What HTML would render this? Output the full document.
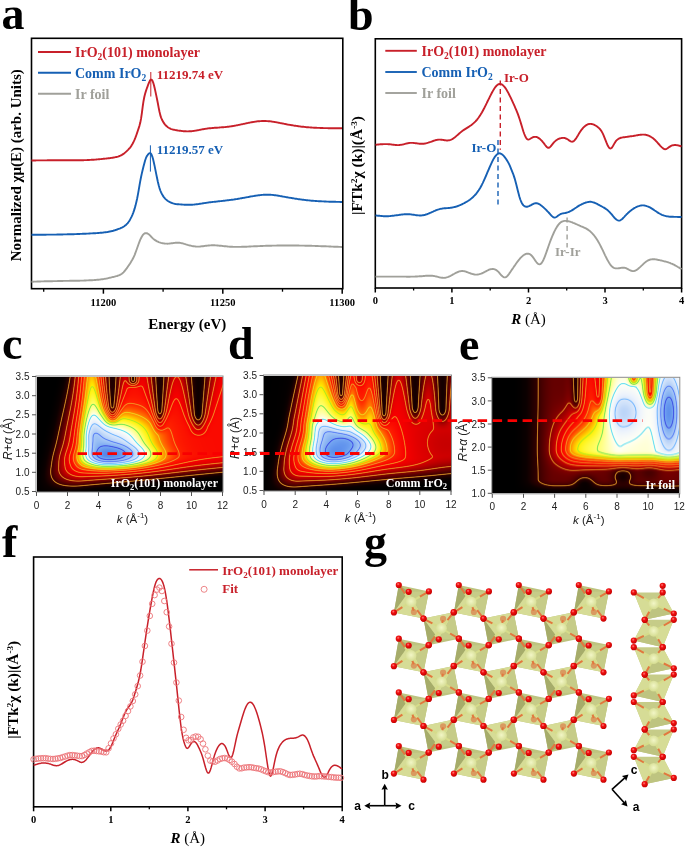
<!DOCTYPE html>
<html><head><meta charset="utf-8"><style>
html,body{margin:0;padding:0;background:#fff;}
#wrap{position:relative;width:685px;height:847px;overflow:hidden;background:#fff;}
svg{position:absolute;left:0;top:0;}
</style></head><body><div id="wrap">
<canvas id="cvc" width="186" height="115" style="position:absolute;left:36.5px;top:376.5px;width:186px;height:115px;background:radial-gradient(ellipse 16% 22% at 38% 68%, #5a8ae6 0%, #d8e6fa 55%, rgba(255,255,160,0) 100%), radial-gradient(ellipse 30% 40% at 40% 62%, #ffff80 0%, #ffb000 60%, rgba(255,40,0,0) 100%), linear-gradient(to right, #000 0%, #000 8%, #b00000 20%, #f00000 35%, #e00000 100%)"></canvas>
<canvas id="cvd" width="187" height="115" style="position:absolute;left:264.0px;top:375.5px;width:187px;height:115px;background:radial-gradient(ellipse 16% 22% at 38% 68%, #5a8ae6 0%, #d8e6fa 55%, rgba(255,255,160,0) 100%), radial-gradient(ellipse 30% 40% at 40% 62%, #ffff80 0%, #ffb000 60%, rgba(255,40,0,0) 100%), linear-gradient(to right, #000 0%, #000 8%, #b00000 20%, #f00000 35%, #e00000 100%)"></canvas>
<canvas id="cve" width="187" height="116" style="position:absolute;left:492.3px;top:377.8px;width:187px;height:115.5px;background:radial-gradient(ellipse 30% 35% at 78% 35%, #e0ecfc 0%, #ffffff 50%, #ffff60 80%, rgba(255,60,0,0) 100%), linear-gradient(to right, #000 0%, #000 22%, #700000 35%, #e00000 50%, #ff8000 65%, #ffff80 100%)"></canvas>
<svg width="685" height="847" viewBox="0 0 685 847">
<text x="1.5" y="29" style="font-family:'Liberation Serif',serif;font-weight:bold;font-size:46px">a</text>
<text x="348" y="30" style="font-family:'Liberation Serif',serif;font-weight:bold;font-size:46px">b</text>
<text x="2" y="358.5" style="font-family:'Liberation Serif',serif;font-weight:bold;font-size:46px">c</text>
<text x="228" y="359" style="font-family:'Liberation Serif',serif;font-weight:bold;font-size:46px">d</text>
<text x="459" y="359.5" style="font-family:'Liberation Serif',serif;font-weight:bold;font-size:46px">e</text>
<text x="2" y="556.5" style="font-family:'Liberation Serif',serif;font-weight:bold;font-size:46px">f</text>
<text x="364" y="556.5" style="font-family:'Liberation Serif',serif;font-weight:bold;font-size:46px">g</text>
<rect x="31.5" y="38.3" width="311.3" height="250.39999999999998" fill="none" stroke="#000" stroke-width="1.6"/>
<line x1="103.4" y1="288.7" x2="103.4" y2="293.7" stroke="#000" stroke-width="1.5"/>
<text x="103.4" y="305.8" text-anchor="middle" style="font-family:'Liberation Serif',serif;font-weight:bold;font-size:10.5px">11200</text>
<line x1="222.8" y1="288.7" x2="222.8" y2="293.7" stroke="#000" stroke-width="1.5"/>
<text x="222.8" y="305.8" text-anchor="middle" style="font-family:'Liberation Serif',serif;font-weight:bold;font-size:10.5px">11250</text>
<line x1="342.2" y1="288.7" x2="342.2" y2="293.7" stroke="#000" stroke-width="1.5"/>
<text x="342.2" y="305.8" text-anchor="middle" style="font-family:'Liberation Serif',serif;font-weight:bold;font-size:10.5px">11300</text>
<line x1="43.7" y1="288.7" x2="43.7" y2="291.7" stroke="#000" stroke-width="1.3"/>
<line x1="163.1" y1="288.7" x2="163.1" y2="291.7" stroke="#000" stroke-width="1.3"/>
<line x1="282.5" y1="288.7" x2="282.5" y2="291.7" stroke="#000" stroke-width="1.3"/>
<text x="187.3" y="328.5" text-anchor="middle" style="font-family:'Liberation Serif',serif;font-weight:bold;font-size:15px">Energy (eV)</text>
<text transform="translate(20.5,165.2) rotate(-90)" text-anchor="middle" style="font-family:'Liberation Serif',serif;font-weight:bold;font-size:15px">Normalized χμ(E) (arb. Units)</text>
<path d="M31.5,281.7 L32.3,281.7 L33.1,281.7 L33.9,281.6 L34.7,281.6 L35.5,281.6 L36.3,281.6 L37.1,281.5 L37.9,281.5 L38.7,281.5 L39.5,281.5 L40.3,281.5 L41.1,281.4 L41.9,281.4 L42.7,281.4 L43.5,281.4 L44.3,281.3 L45.1,281.3 L45.9,281.3 L46.7,281.3 L47.5,281.3 L48.3,281.2 L49.1,281.2 L49.9,281.2 L50.7,281.2 L51.5,281.2 L52.3,281.2 L53.1,281.1 L53.9,281.1 L54.7,281.1 L55.5,281.1 L56.3,281.1 L57.1,281.1 L57.9,281.0 L58.7,281.0 L59.5,281.0 L60.3,281.0 L61.1,281.0 L61.9,281.0 L62.7,281.0 L63.5,280.9 L64.3,280.9 L65.1,280.9 L65.9,280.9 L66.7,280.9 L67.5,280.9 L68.3,280.9 L69.1,280.9 L69.9,280.8 L70.7,280.8 L71.5,280.8 L72.3,280.8 L73.1,280.8 L73.9,280.8 L74.7,280.8 L75.5,280.8 L76.3,280.7 L77.1,280.7 L77.9,280.7 L78.7,280.7 L79.5,280.7 L80.3,280.6 L81.1,280.6 L81.9,280.6 L82.7,280.6 L83.5,280.6 L84.3,280.5 L85.1,280.5 L85.9,280.5 L86.7,280.4 L87.5,280.4 L88.3,280.4 L89.1,280.3 L89.9,280.3 L90.7,280.3 L91.5,280.2 L92.3,280.2 L93.1,280.1 L93.9,280.1 L94.7,280.0 L95.5,280.0 L96.3,279.9 L97.1,279.8 L97.9,279.8 L98.7,279.7 L99.5,279.6 L100.3,279.5 L101.1,279.4 L101.9,279.3 L102.7,279.2 L103.5,279.1 L104.3,278.9 L105.1,278.8 L105.9,278.6 L106.7,278.5 L107.5,278.3 L108.3,278.1 L109.1,277.9 L109.9,277.7 L110.7,277.6 L111.5,277.4 L112.3,277.2 L113.1,277.0 L113.9,276.8 L114.7,276.6 L115.5,276.4 L116.3,276.2 L117.1,276.0 L117.9,275.7 L118.7,275.4 L119.5,275.1 L120.3,274.7 L121.1,274.2 L121.9,273.7 L122.7,273.1 L123.5,272.3 L124.3,271.4 L125.1,270.5 L125.9,269.4 L126.7,268.4 L127.5,267.2 L128.3,266.0 L129.1,264.9 L129.9,263.7 L130.7,262.4 L131.5,261.1 L132.3,259.8 L133.1,258.3 L133.9,256.6 L134.7,254.8 L135.5,252.7 L136.3,250.5 L137.1,248.3 L137.9,246.0 L138.7,243.8 L139.5,241.7 L140.3,239.7 L141.1,238.0 L141.9,236.5 L142.7,235.2 L143.5,234.3 L144.3,233.6 L145.1,233.2 L145.9,233.1 L146.7,233.2 L147.5,233.5 L148.3,234.0 L149.1,234.6 L149.9,235.3 L150.7,236.1 L151.5,237.0 L152.3,237.8 L153.1,238.6 L153.9,239.3 L154.7,239.9 L155.5,240.4 L156.3,240.9 L157.1,241.4 L157.9,241.7 L158.7,242.1 L159.5,242.4 L160.3,242.6 L161.1,242.9 L161.9,243.1 L162.7,243.2 L163.5,243.4 L164.3,243.5 L165.1,243.6 L165.9,243.6 L166.7,243.6 L167.5,243.7 L168.3,243.6 L169.1,243.6 L169.9,243.5 L170.7,243.4 L171.5,243.3 L172.3,243.2 L173.1,243.1 L173.9,243.0 L174.7,242.9 L175.5,242.8 L176.3,242.8 L177.1,242.7 L177.9,242.7 L178.7,242.8 L179.5,242.8 L180.3,242.9 L181.1,243.1 L181.9,243.2 L182.7,243.4 L183.5,243.6 L184.3,243.9 L185.1,244.1 L185.9,244.4 L186.7,244.6 L187.5,244.9 L188.3,245.1 L189.1,245.3 L189.9,245.5 L190.7,245.7 L191.5,245.9 L192.3,246.1 L193.1,246.2 L193.9,246.3 L194.7,246.4 L195.5,246.5 L196.3,246.6 L197.1,246.6 L197.9,246.6 L198.7,246.6 L199.5,246.6 L200.3,246.5 L201.1,246.4 L201.9,246.3 L202.7,246.3 L203.5,246.2 L204.3,246.0 L205.1,245.9 L205.9,245.8 L206.7,245.7 L207.5,245.6 L208.3,245.5 L209.1,245.5 L209.9,245.4 L210.7,245.4 L211.5,245.3 L212.3,245.3 L213.1,245.3 L213.9,245.3 L214.7,245.3 L215.5,245.4 L216.3,245.4 L217.1,245.5 L217.9,245.5 L218.7,245.6 L219.5,245.7 L220.3,245.7 L221.1,245.8 L221.9,245.9 L222.7,246.0 L223.5,246.1 L224.3,246.2 L225.1,246.2 L225.9,246.3 L226.7,246.4 L227.5,246.5 L228.3,246.6 L229.1,246.6 L229.9,246.7 L230.7,246.7 L231.5,246.8 L232.3,246.8 L233.1,246.9 L233.9,246.9 L234.7,246.9 L235.5,246.9 L236.3,246.9 L237.1,246.9 L237.9,246.9 L238.7,246.9 L239.5,246.9 L240.3,246.9 L241.1,246.9 L241.9,246.8 L242.7,246.8 L243.5,246.8 L244.3,246.8 L245.1,246.7 L245.9,246.7 L246.7,246.7 L247.5,246.6 L248.3,246.6 L249.1,246.5 L249.9,246.5 L250.7,246.5 L251.5,246.4 L252.3,246.4 L253.1,246.4 L253.9,246.3 L254.7,246.3 L255.5,246.2 L256.3,246.2 L257.1,246.2 L257.9,246.1 L258.7,246.1 L259.5,246.1 L260.3,246.0 L261.1,246.0 L261.9,246.0 L262.7,246.0 L263.5,245.9 L264.3,245.9 L265.1,245.9 L265.9,245.8 L266.7,245.8 L267.5,245.8 L268.3,245.8 L269.1,245.7 L269.9,245.7 L270.7,245.7 L271.5,245.7 L272.3,245.6 L273.1,245.6 L273.9,245.6 L274.7,245.6 L275.5,245.6 L276.3,245.6 L277.1,245.5 L277.9,245.5 L278.7,245.5 L279.5,245.5 L280.3,245.5 L281.1,245.5 L281.9,245.5 L282.7,245.5 L283.5,245.5 L284.3,245.5 L285.1,245.5 L285.9,245.5 L286.7,245.5 L287.5,245.5 L288.3,245.5 L289.1,245.5 L289.9,245.5 L290.7,245.5 L291.5,245.5 L292.3,245.5 L293.1,245.5 L293.9,245.5 L294.7,245.5 L295.5,245.5 L296.3,245.5 L297.1,245.5 L297.9,245.5 L298.7,245.5 L299.5,245.6 L300.3,245.6 L301.1,245.6 L301.9,245.6 L302.7,245.6 L303.5,245.6 L304.3,245.6 L305.1,245.7 L305.9,245.7 L306.7,245.7 L307.5,245.7 L308.3,245.7 L309.1,245.8 L309.9,245.8 L310.7,245.8 L311.5,245.8 L312.3,245.9 L313.1,245.9 L313.9,245.9 L314.7,245.9 L315.5,246.0 L316.3,246.0 L317.1,246.0 L317.9,246.0 L318.7,246.1 L319.5,246.1 L320.3,246.1 L321.1,246.2 L321.9,246.2 L322.7,246.2 L323.5,246.2 L324.3,246.3 L325.1,246.3 L325.9,246.3 L326.7,246.4 L327.5,246.4 L328.3,246.4 L329.1,246.5 L329.9,246.5 L330.7,246.5 L331.5,246.6 L332.3,246.6 L333.1,246.6 L333.9,246.7 L334.7,246.7 L335.5,246.7 L336.3,246.8 L337.1,246.8 L337.9,246.8 L338.7,246.9 L339.5,246.9 L340.3,246.9 L341.1,247.0 L341.9,247.0 L342.0,247.0" fill="none" stroke="#a0a09a" stroke-width="1.9" stroke-linejoin="round"/>
<path d="M31.5,234.7 L32.3,234.7 L33.1,234.7 L33.9,234.7 L34.7,234.7 L35.5,234.7 L36.3,234.7 L37.1,234.7 L37.9,234.7 L38.7,234.7 L39.5,234.7 L40.3,234.7 L41.1,234.7 L41.9,234.7 L42.7,234.7 L43.5,234.7 L44.3,234.7 L45.1,234.7 L45.9,234.7 L46.7,234.6 L47.5,234.6 L48.3,234.6 L49.1,234.6 L49.9,234.6 L50.7,234.6 L51.5,234.6 L52.3,234.6 L53.1,234.6 L53.9,234.6 L54.7,234.6 L55.5,234.6 L56.3,234.6 L57.1,234.5 L57.9,234.5 L58.7,234.5 L59.5,234.5 L60.3,234.5 L61.1,234.5 L61.9,234.5 L62.7,234.5 L63.5,234.4 L64.3,234.4 L65.1,234.4 L65.9,234.4 L66.7,234.4 L67.5,234.3 L68.3,234.3 L69.1,234.3 L69.9,234.3 L70.7,234.3 L71.5,234.2 L72.3,234.2 L73.1,234.2 L73.9,234.2 L74.7,234.1 L75.5,234.1 L76.3,234.1 L77.1,234.0 L77.9,234.0 L78.7,234.0 L79.5,234.0 L80.3,233.9 L81.1,233.9 L81.9,233.9 L82.7,233.8 L83.5,233.8 L84.3,233.8 L85.1,233.7 L85.9,233.7 L86.7,233.6 L87.5,233.6 L88.3,233.6 L89.1,233.5 L89.9,233.5 L90.7,233.4 L91.5,233.4 L92.3,233.4 L93.1,233.3 L93.9,233.3 L94.7,233.2 L95.5,233.2 L96.3,233.1 L97.1,233.1 L97.9,233.0 L98.7,233.0 L99.5,232.9 L100.3,232.8 L101.1,232.8 L101.9,232.7 L102.7,232.6 L103.5,232.5 L104.3,232.4 L105.1,232.3 L105.9,232.2 L106.7,232.1 L107.5,232.0 L108.3,231.8 L109.1,231.7 L109.9,231.5 L110.7,231.3 L111.5,231.2 L112.3,231.0 L113.1,230.8 L113.9,230.5 L114.7,230.3 L115.5,230.0 L116.3,229.8 L117.1,229.5 L117.9,229.2 L118.7,228.9 L119.5,228.6 L120.3,228.3 L121.1,227.9 L121.9,227.6 L122.7,227.2 L123.5,226.7 L124.3,226.2 L125.1,225.6 L125.9,225.0 L126.7,224.2 L127.5,223.3 L128.3,222.3 L129.1,221.2 L129.9,219.9 L130.7,218.4 L131.5,216.8 L132.3,215.1 L133.1,213.1 L133.9,210.9 L134.7,208.4 L135.5,205.6 L136.3,202.3 L137.1,198.7 L137.9,194.6 L138.7,190.1 L139.5,185.3 L140.3,180.8 L141.1,176.7 L141.9,173.1 L142.7,169.7 L143.5,166.5 L144.3,163.4 L145.1,160.5 L145.9,158.2 L146.7,156.4 L147.5,155.2 L148.3,154.1 L149.1,153.4 L149.9,153.1 L150.7,153.4 L151.5,154.6 L152.3,156.6 L153.1,159.3 L153.9,162.7 L154.7,166.4 L155.5,170.4 L156.3,174.4 L157.1,178.3 L157.9,182.0 L158.7,185.3 L159.5,188.1 L160.3,190.5 L161.1,192.4 L161.9,194.0 L162.7,195.4 L163.5,196.6 L164.3,197.7 L165.1,198.6 L165.9,199.4 L166.7,200.1 L167.5,200.7 L168.3,201.2 L169.1,201.7 L169.9,202.1 L170.7,202.5 L171.5,202.8 L172.3,203.1 L173.1,203.4 L173.9,203.6 L174.7,203.8 L175.5,204.0 L176.3,204.1 L177.1,204.2 L177.9,204.3 L178.7,204.3 L179.5,204.4 L180.3,204.4 L181.1,204.5 L181.9,204.5 L182.7,204.6 L183.5,204.6 L184.3,204.7 L185.1,204.7 L185.9,204.8 L186.7,204.8 L187.5,204.8 L188.3,204.8 L189.1,204.8 L189.9,204.8 L190.7,204.8 L191.5,204.7 L192.3,204.7 L193.1,204.6 L193.9,204.6 L194.7,204.5 L195.5,204.4 L196.3,204.3 L197.1,204.2 L197.9,204.1 L198.7,204.0 L199.5,203.8 L200.3,203.7 L201.1,203.6 L201.9,203.5 L202.7,203.3 L203.5,203.2 L204.3,203.1 L205.1,203.0 L205.9,202.9 L206.7,202.8 L207.5,202.6 L208.3,202.5 L209.1,202.4 L209.9,202.3 L210.7,202.2 L211.5,202.1 L212.3,202.0 L213.1,201.9 L213.9,201.9 L214.7,201.8 L215.5,201.7 L216.3,201.6 L217.1,201.5 L217.9,201.4 L218.7,201.3 L219.5,201.2 L220.3,201.1 L221.1,201.1 L221.9,201.0 L222.7,200.9 L223.5,200.8 L224.3,200.7 L225.1,200.6 L225.9,200.5 L226.7,200.4 L227.5,200.3 L228.3,200.2 L229.1,200.1 L229.9,200.0 L230.7,199.9 L231.5,199.8 L232.3,199.7 L233.1,199.6 L233.9,199.5 L234.7,199.3 L235.5,199.2 L236.3,199.1 L237.1,199.0 L237.9,198.8 L238.7,198.7 L239.5,198.6 L240.3,198.4 L241.1,198.3 L241.9,198.2 L242.7,198.0 L243.5,197.9 L244.3,197.7 L245.1,197.6 L245.9,197.4 L246.7,197.3 L247.5,197.1 L248.3,197.0 L249.1,196.8 L249.9,196.7 L250.7,196.5 L251.5,196.4 L252.3,196.3 L253.1,196.1 L253.9,196.0 L254.7,195.8 L255.5,195.7 L256.3,195.6 L257.1,195.5 L257.9,195.4 L258.7,195.3 L259.5,195.2 L260.3,195.1 L261.1,195.0 L261.9,194.9 L262.7,194.9 L263.5,194.8 L264.3,194.8 L265.1,194.7 L265.9,194.7 L266.7,194.7 L267.5,194.7 L268.3,194.7 L269.1,194.7 L269.9,194.8 L270.7,194.8 L271.5,194.9 L272.3,194.9 L273.1,195.0 L273.9,195.1 L274.7,195.2 L275.5,195.3 L276.3,195.4 L277.1,195.5 L277.9,195.7 L278.7,195.8 L279.5,195.9 L280.3,196.1 L281.1,196.2 L281.9,196.3 L282.7,196.5 L283.5,196.6 L284.3,196.8 L285.1,196.9 L285.9,197.1 L286.7,197.2 L287.5,197.3 L288.3,197.5 L289.1,197.6 L289.9,197.8 L290.7,197.9 L291.5,198.0 L292.3,198.2 L293.1,198.3 L293.9,198.4 L294.7,198.6 L295.5,198.7 L296.3,198.8 L297.1,198.9 L297.9,199.1 L298.7,199.2 L299.5,199.3 L300.3,199.4 L301.1,199.5 L301.9,199.6 L302.7,199.7 L303.5,199.8 L304.3,199.9 L305.1,200.0 L305.9,200.1 L306.7,200.2 L307.5,200.3 L308.3,200.4 L309.1,200.4 L309.9,200.5 L310.7,200.6 L311.5,200.7 L312.3,200.7 L313.1,200.8 L313.9,200.9 L314.7,200.9 L315.5,201.0 L316.3,201.0 L317.1,201.1 L317.9,201.1 L318.7,201.2 L319.5,201.2 L320.3,201.3 L321.1,201.3 L321.9,201.4 L322.7,201.4 L323.5,201.4 L324.3,201.5 L325.1,201.5 L325.9,201.5 L326.7,201.6 L327.5,201.6 L328.3,201.6 L329.1,201.7 L329.9,201.7 L330.7,201.7 L331.5,201.7 L332.3,201.8 L333.1,201.8 L333.9,201.8 L334.7,201.8 L335.5,201.8 L336.3,201.9 L337.1,201.9 L337.9,201.9 L338.7,201.9 L339.5,201.9 L340.3,202.0 L341.1,202.0 L341.9,202.0 L342.0,202.0" fill="none" stroke="#1660b4" stroke-width="1.9" stroke-linejoin="round"/>
<path d="M31.5,160.5 L32.3,160.5 L33.1,160.5 L33.9,160.5 L34.7,160.5 L35.5,160.5 L36.3,160.4 L37.1,160.4 L37.9,160.4 L38.7,160.4 L39.5,160.4 L40.3,160.4 L41.1,160.4 L41.9,160.4 L42.7,160.4 L43.5,160.4 L44.3,160.4 L45.1,160.4 L45.9,160.4 L46.7,160.4 L47.5,160.3 L48.3,160.3 L49.1,160.3 L49.9,160.3 L50.7,160.3 L51.5,160.3 L52.3,160.3 L53.1,160.3 L53.9,160.3 L54.7,160.3 L55.5,160.3 L56.3,160.3 L57.1,160.3 L57.9,160.3 L58.7,160.3 L59.5,160.3 L60.3,160.3 L61.1,160.3 L61.9,160.3 L62.7,160.3 L63.5,160.3 L64.3,160.3 L65.1,160.3 L65.9,160.3 L66.7,160.3 L67.5,160.3 L68.3,160.3 L69.1,160.3 L69.9,160.3 L70.7,160.3 L71.5,160.3 L72.3,160.3 L73.1,160.3 L73.9,160.3 L74.7,160.3 L75.5,160.3 L76.3,160.3 L77.1,160.3 L77.9,160.3 L78.7,160.3 L79.5,160.2 L80.3,160.2 L81.1,160.2 L81.9,160.2 L82.7,160.2 L83.5,160.2 L84.3,160.1 L85.1,160.1 L85.9,160.1 L86.7,160.1 L87.5,160.0 L88.3,160.0 L89.1,160.0 L89.9,159.9 L90.7,159.9 L91.5,159.8 L92.3,159.8 L93.1,159.7 L93.9,159.7 L94.7,159.6 L95.5,159.6 L96.3,159.5 L97.1,159.4 L97.9,159.4 L98.7,159.3 L99.5,159.2 L100.3,159.1 L101.1,159.1 L101.9,159.0 L102.7,158.9 L103.5,158.8 L104.3,158.7 L105.1,158.6 L105.9,158.6 L106.7,158.5 L107.5,158.4 L108.3,158.3 L109.1,158.2 L109.9,158.1 L110.7,158.0 L111.5,157.9 L112.3,157.8 L113.1,157.7 L113.9,157.5 L114.7,157.4 L115.5,157.2 L116.3,157.0 L117.1,156.8 L117.9,156.6 L118.7,156.3 L119.5,156.0 L120.3,155.7 L121.1,155.3 L121.9,154.9 L122.7,154.4 L123.5,153.9 L124.3,153.3 L125.1,152.6 L125.9,151.9 L126.7,151.2 L127.5,150.4 L128.3,149.6 L129.1,148.7 L129.9,147.8 L130.7,146.8 L131.5,145.6 L132.3,144.3 L133.1,142.8 L133.9,141.2 L134.7,139.4 L135.5,137.4 L136.3,135.2 L137.1,132.9 L137.9,130.5 L138.7,128.1 L139.5,125.6 L140.3,122.6 L141.1,118.4 L141.9,112.8 L142.7,106.7 L143.5,101.2 L144.3,97.0 L145.1,93.7 L145.9,91.1 L146.7,88.8 L147.5,86.6 L148.3,84.3 L149.1,82.3 L149.9,80.7 L150.7,79.7 L151.5,79.6 L152.3,80.5 L153.1,82.3 L153.9,85.0 L154.7,88.3 L155.5,91.9 L156.3,95.6 L157.1,99.5 L157.9,103.5 L158.7,107.8 L159.5,111.8 L160.3,115.1 L161.1,117.6 L161.9,119.5 L162.7,121.1 L163.5,122.4 L164.3,123.6 L165.1,124.6 L165.9,125.5 L166.7,126.2 L167.5,126.9 L168.3,127.5 L169.1,128.0 L169.9,128.4 L170.7,128.8 L171.5,129.1 L172.3,129.3 L173.1,129.6 L173.9,129.7 L174.7,129.9 L175.5,130.1 L176.3,130.2 L177.1,130.3 L177.9,130.5 L178.7,130.6 L179.5,130.7 L180.3,130.8 L181.1,130.9 L181.9,131.0 L182.7,131.1 L183.5,131.2 L184.3,131.3 L185.1,131.3 L185.9,131.3 L186.7,131.4 L187.5,131.4 L188.3,131.4 L189.1,131.3 L189.9,131.3 L190.7,131.3 L191.5,131.2 L192.3,131.1 L193.1,131.0 L193.9,130.9 L194.7,130.8 L195.5,130.6 L196.3,130.5 L197.1,130.4 L197.9,130.2 L198.7,130.1 L199.5,129.9 L200.3,129.7 L201.1,129.6 L201.9,129.4 L202.7,129.3 L203.5,129.2 L204.3,129.0 L205.1,128.9 L205.9,128.8 L206.7,128.6 L207.5,128.5 L208.3,128.4 L209.1,128.3 L209.9,128.3 L210.7,128.2 L211.5,128.1 L212.3,128.0 L213.1,128.0 L213.9,127.9 L214.7,127.8 L215.5,127.8 L216.3,127.7 L217.1,127.7 L217.9,127.6 L218.7,127.6 L219.5,127.5 L220.3,127.4 L221.1,127.4 L221.9,127.3 L222.7,127.3 L223.5,127.2 L224.3,127.1 L225.1,127.1 L225.9,127.0 L226.7,126.9 L227.5,126.8 L228.3,126.7 L229.1,126.6 L229.9,126.5 L230.7,126.4 L231.5,126.3 L232.3,126.2 L233.1,126.0 L233.9,125.9 L234.7,125.7 L235.5,125.6 L236.3,125.4 L237.1,125.3 L237.9,125.1 L238.7,124.9 L239.5,124.8 L240.3,124.6 L241.1,124.4 L241.9,124.3 L242.7,124.1 L243.5,123.9 L244.3,123.8 L245.1,123.6 L245.9,123.4 L246.7,123.2 L247.5,123.1 L248.3,122.9 L249.1,122.7 L249.9,122.6 L250.7,122.4 L251.5,122.3 L252.3,122.2 L253.1,122.0 L253.9,121.9 L254.7,121.8 L255.5,121.6 L256.3,121.5 L257.1,121.4 L257.9,121.3 L258.7,121.3 L259.5,121.2 L260.3,121.1 L261.1,121.1 L261.9,121.0 L262.7,121.0 L263.5,121.0 L264.3,121.0 L265.1,121.0 L265.9,121.0 L266.7,121.1 L267.5,121.1 L268.3,121.2 L269.1,121.2 L269.9,121.3 L270.7,121.4 L271.5,121.5 L272.3,121.6 L273.1,121.8 L273.9,121.9 L274.7,122.0 L275.5,122.1 L276.3,122.3 L277.1,122.4 L277.9,122.6 L278.7,122.7 L279.5,122.9 L280.3,123.1 L281.1,123.2 L281.9,123.4 L282.7,123.5 L283.5,123.7 L284.3,123.9 L285.1,124.0 L285.9,124.2 L286.7,124.3 L287.5,124.5 L288.3,124.6 L289.1,124.8 L289.9,124.9 L290.7,125.0 L291.5,125.2 L292.3,125.3 L293.1,125.4 L293.9,125.6 L294.7,125.7 L295.5,125.8 L296.3,125.9 L297.1,126.0 L297.9,126.2 L298.7,126.3 L299.5,126.4 L300.3,126.5 L301.1,126.6 L301.9,126.7 L302.7,126.8 L303.5,126.8 L304.3,126.9 L305.1,127.0 L305.9,127.1 L306.7,127.2 L307.5,127.2 L308.3,127.3 L309.1,127.4 L309.9,127.4 L310.7,127.5 L311.5,127.5 L312.3,127.6 L313.1,127.6 L313.9,127.7 L314.7,127.7 L315.5,127.8 L316.3,127.8 L317.1,127.9 L317.9,127.9 L318.7,127.9 L319.5,127.9 L320.3,128.0 L321.1,128.0 L321.9,128.0 L322.7,128.0 L323.5,128.1 L324.3,128.1 L325.1,128.1 L325.9,128.1 L326.7,128.1 L327.5,128.1 L328.3,128.2 L329.1,128.2 L329.9,128.2 L330.7,128.2 L331.5,128.2 L332.3,128.2 L333.1,128.2 L333.9,128.2 L334.7,128.2 L335.5,128.2 L336.3,128.2 L337.1,128.2 L337.9,128.2 L338.7,128.2 L339.5,128.2 L340.3,128.2 L341.1,128.2 L341.9,128.2 L342.0,128.2" fill="none" stroke="#c8202a" stroke-width="1.9" stroke-linejoin="round"/>
<line x1="150.8" y1="72" x2="150.8" y2="96.5" stroke="#c8202a" stroke-width="1"/>
<line x1="150.4" y1="145.3" x2="150.4" y2="171.6" stroke="#1660b4" stroke-width="1"/>
<text x="156.7" y="79.2" style="font-family:'Liberation Serif',serif;font-weight:bold;font-size:13px;fill:#c8202a">11219.74 eV</text>
<text x="156.7" y="154.2" style="font-family:'Liberation Serif',serif;font-weight:bold;font-size:13px;fill:#1660b4">11219.57 eV</text>
<line x1="38" y1="52" x2="71" y2="52" stroke="#c8202a" stroke-width="1.9"/>
<text x="75" y="57" style="font-family:'Liberation Serif',serif;font-weight:bold;font-size:14px;fill:#c8202a">IrO<tspan dy="3" font-size="9.5px">2</tspan><tspan dy="-3">(101) monolayer</tspan></text>
<line x1="38" y1="72.8" x2="71" y2="72.8" stroke="#1660b4" stroke-width="1.9"/>
<text x="75" y="77.8" style="font-family:'Liberation Serif',serif;font-weight:bold;font-size:14px;fill:#1660b4">Comm IrO<tspan dy="3" font-size="9.5px">2</tspan></text>
<line x1="38" y1="93.7" x2="71" y2="93.7" stroke="#a0a09a" stroke-width="1.9"/>
<text x="75" y="98.7" style="font-family:'Liberation Serif',serif;font-weight:bold;font-size:14px;fill:#a0a09a">Ir foil</text>
<rect x="375.3" y="38.8" width="306.3" height="249.2" fill="none" stroke="#000" stroke-width="1.6"/>
<line x1="375.3" y1="288.0" x2="375.3" y2="292.5" stroke="#000" stroke-width="1.5"/>
<text x="375.3" y="304.3" text-anchor="middle" style="font-family:'Liberation Serif',serif;font-weight:bold;font-size:10.5px">0</text>
<line x1="451.9" y1="288.0" x2="451.9" y2="292.5" stroke="#000" stroke-width="1.5"/>
<text x="451.9" y="304.3" text-anchor="middle" style="font-family:'Liberation Serif',serif;font-weight:bold;font-size:10.5px">1</text>
<line x1="528.5" y1="288.0" x2="528.5" y2="292.5" stroke="#000" stroke-width="1.5"/>
<text x="528.5" y="304.3" text-anchor="middle" style="font-family:'Liberation Serif',serif;font-weight:bold;font-size:10.5px">2</text>
<line x1="605.0" y1="288.0" x2="605.0" y2="292.5" stroke="#000" stroke-width="1.5"/>
<text x="605.0" y="304.3" text-anchor="middle" style="font-family:'Liberation Serif',serif;font-weight:bold;font-size:10.5px">3</text>
<line x1="681.6" y1="288.0" x2="681.6" y2="292.5" stroke="#000" stroke-width="1.5"/>
<text x="681.6" y="304.3" text-anchor="middle" style="font-family:'Liberation Serif',serif;font-weight:bold;font-size:10.5px">4</text>
<line x1="413.6" y1="288.0" x2="413.6" y2="290.5" stroke="#000" stroke-width="1.3"/>
<line x1="490.2" y1="288.0" x2="490.2" y2="290.5" stroke="#000" stroke-width="1.3"/>
<line x1="566.7" y1="288.0" x2="566.7" y2="290.5" stroke="#000" stroke-width="1.3"/>
<line x1="643.3" y1="288.0" x2="643.3" y2="290.5" stroke="#000" stroke-width="1.3"/>
<text x="528.5" y="324.4" text-anchor="middle" style="font-family:'Liberation Serif',serif;font-weight:bold;font-size:15px"><tspan font-style="italic">R</tspan><tspan font-weight="normal"> (Å)</tspan></text>
<text transform="translate(361.5,165.5) rotate(-90)" text-anchor="middle" style="font-family:'Liberation Serif',serif;font-weight:bold;font-size:15.5px">|FTk<tspan dy="-5" font-size="9px">2</tspan><tspan dy="5">χ (k)|(Å</tspan><tspan dy="-5" font-size="9px">-3</tspan><tspan dy="5">)</tspan></text>
<path d="M375.5,276.6 L376.3,276.6 L377.1,276.6 L377.9,276.6 L378.7,276.6 L379.5,276.6 L380.3,276.6 L381.1,276.6 L381.9,276.6 L382.7,276.6 L383.5,276.6 L384.3,276.6 L385.1,276.6 L385.9,276.6 L386.7,276.6 L387.5,276.6 L388.3,276.6 L389.1,276.6 L389.9,276.6 L390.7,276.6 L391.5,276.6 L392.3,276.6 L393.1,276.6 L393.9,276.6 L394.7,276.6 L395.5,276.6 L396.3,276.6 L397.1,276.6 L397.9,276.6 L398.7,276.6 L399.5,276.6 L400.3,276.6 L401.1,276.6 L401.9,276.6 L402.7,276.6 L403.5,276.6 L404.3,276.6 L405.1,276.6 L405.9,276.6 L406.7,276.7 L407.5,276.7 L408.3,276.7 L409.1,276.7 L409.9,276.7 L410.7,276.6 L411.5,276.6 L412.3,276.6 L413.1,276.6 L413.9,276.6 L414.7,276.6 L415.5,276.5 L416.3,276.5 L417.1,276.5 L417.9,276.4 L418.7,276.4 L419.5,276.3 L420.3,276.3 L421.1,276.2 L421.9,276.2 L422.7,276.1 L423.5,276.0 L424.3,276.0 L425.1,275.9 L425.9,275.8 L426.7,275.8 L427.5,275.8 L428.3,275.7 L429.1,275.7 L429.9,275.7 L430.7,275.7 L431.5,275.8 L432.3,275.8 L433.1,275.9 L433.9,276.0 L434.7,276.1 L435.5,276.3 L436.3,276.5 L437.1,276.7 L437.9,276.9 L438.7,277.1 L439.5,277.3 L440.3,277.5 L441.1,277.6 L441.9,277.7 L442.7,277.8 L443.5,277.9 L444.3,277.9 L445.1,277.8 L445.9,277.6 L446.7,277.4 L447.5,277.2 L448.3,276.9 L449.1,276.5 L449.9,276.2 L450.7,275.8 L451.5,275.3 L452.3,274.9 L453.1,274.4 L453.9,274.0 L454.7,273.5 L455.5,273.1 L456.3,272.7 L457.1,272.3 L457.9,272.0 L458.7,271.7 L459.5,271.4 L460.3,271.2 L461.1,271.1 L461.9,271.0 L462.7,271.0 L463.5,271.1 L464.3,271.2 L465.1,271.4 L465.9,271.7 L466.7,272.0 L467.5,272.2 L468.3,272.6 L469.1,272.9 L469.9,273.2 L470.7,273.5 L471.5,273.7 L472.3,274.0 L473.1,274.2 L473.9,274.3 L474.7,274.5 L475.5,274.6 L476.3,274.6 L477.1,274.6 L477.9,274.5 L478.7,274.4 L479.5,274.2 L480.3,273.9 L481.1,273.7 L481.9,273.3 L482.7,273.0 L483.5,272.6 L484.3,272.2 L485.1,271.7 L485.9,271.3 L486.7,270.9 L487.5,270.5 L488.3,270.1 L489.1,269.7 L489.9,269.4 L490.7,269.2 L491.5,269.1 L492.3,269.0 L493.1,269.0 L493.9,269.1 L494.7,269.4 L495.5,269.7 L496.3,270.1 L497.1,270.7 L497.9,271.4 L498.7,272.2 L499.5,273.1 L500.3,274.1 L501.1,275.0 L501.9,275.8 L502.7,276.5 L503.5,277.1 L504.3,277.4 L505.1,277.4 L505.9,277.1 L506.7,276.6 L507.5,275.8 L508.3,274.8 L509.1,273.8 L509.9,272.6 L510.7,271.5 L511.5,270.3 L512.3,269.1 L513.1,268.0 L513.9,266.8 L514.7,265.6 L515.5,264.5 L516.3,263.3 L517.1,262.2 L517.9,261.2 L518.7,260.1 L519.5,259.2 L520.3,258.2 L521.1,257.4 L521.9,256.6 L522.7,255.9 L523.5,255.2 L524.3,254.7 L525.1,254.3 L525.9,253.9 L526.7,253.7 L527.5,253.6 L528.3,253.7 L529.1,253.9 L529.9,254.2 L530.7,254.8 L531.5,255.5 L532.3,256.4 L533.1,257.4 L533.9,258.5 L534.7,259.7 L535.5,260.9 L536.3,262.0 L537.1,263.0 L537.9,263.7 L538.7,264.2 L539.5,264.4 L540.3,264.2 L541.1,263.5 L541.9,262.6 L542.7,261.2 L543.5,259.7 L544.3,257.8 L545.1,255.8 L545.9,253.7 L546.7,251.4 L547.5,249.1 L548.3,246.8 L549.1,244.5 L549.9,242.3 L550.7,240.2 L551.5,238.1 L552.3,236.2 L553.1,234.3 L553.9,232.5 L554.7,230.9 L555.5,229.3 L556.3,227.9 L557.1,226.6 L557.9,225.4 L558.7,224.4 L559.5,223.5 L560.3,222.7 L561.1,222.1 L561.9,221.7 L562.7,221.3 L563.5,221.1 L564.3,220.9 L565.1,220.9 L565.9,220.9 L566.7,221.0 L567.5,221.1 L568.3,221.2 L569.1,221.4 L569.9,221.6 L570.7,221.9 L571.5,222.1 L572.3,222.4 L573.1,222.8 L573.9,223.1 L574.7,223.4 L575.5,223.8 L576.3,224.1 L577.1,224.5 L577.9,224.9 L578.7,225.2 L579.5,225.6 L580.3,225.9 L581.1,226.3 L581.9,226.6 L582.7,226.9 L583.5,227.3 L584.3,227.7 L585.1,228.0 L585.9,228.4 L586.7,228.9 L587.5,229.4 L588.3,229.9 L589.1,230.5 L589.9,231.1 L590.7,231.8 L591.5,232.6 L592.3,233.4 L593.1,234.3 L593.9,235.2 L594.7,236.3 L595.5,237.4 L596.3,238.5 L597.1,239.8 L597.9,241.1 L598.7,242.4 L599.5,243.9 L600.3,245.4 L601.1,247.0 L601.9,248.6 L602.7,250.2 L603.5,251.9 L604.3,253.6 L605.1,255.3 L605.9,256.9 L606.7,258.5 L607.5,260.0 L608.3,261.4 L609.1,262.8 L609.9,264.0 L610.7,265.1 L611.5,266.0 L612.3,266.8 L613.1,267.4 L613.9,267.8 L614.7,268.1 L615.5,268.3 L616.3,268.4 L617.1,268.4 L617.9,268.4 L618.7,268.3 L619.5,268.2 L620.3,268.0 L621.1,267.9 L621.9,267.8 L622.7,267.7 L623.5,267.7 L624.3,267.8 L625.1,267.9 L625.9,268.2 L626.7,268.5 L627.5,268.9 L628.3,269.3 L629.1,269.8 L629.9,270.2 L630.7,270.5 L631.5,270.8 L632.3,271.0 L633.1,271.1 L633.9,271.0 L634.7,270.8 L635.5,270.5 L636.3,270.1 L637.1,269.6 L637.9,269.0 L638.7,268.3 L639.5,267.6 L640.3,266.9 L641.1,266.1 L641.9,265.4 L642.7,264.6 L643.5,263.8 L644.3,263.1 L645.1,262.4 L645.9,261.8 L646.7,261.2 L647.5,260.7 L648.3,260.3 L649.1,260.0 L649.9,259.7 L650.7,259.5 L651.5,259.4 L652.3,259.3 L653.1,259.3 L653.9,259.3 L654.7,259.3 L655.5,259.4 L656.3,259.5 L657.1,259.7 L657.9,259.8 L658.7,260.0 L659.5,260.2 L660.3,260.4 L661.1,260.5 L661.9,260.7 L662.7,260.9 L663.5,261.1 L664.3,261.3 L665.1,261.5 L665.9,261.7 L666.7,261.9 L667.5,262.1 L668.3,262.4 L669.1,262.7 L669.9,262.9 L670.7,263.3 L671.5,263.6 L672.3,263.9 L673.1,264.3 L673.9,264.7 L674.7,265.1 L675.5,265.6 L676.3,266.0 L677.1,266.5 L677.9,267.0 L678.7,267.4 L679.5,267.9 L680.3,268.4 L681.1,268.9 L681.5,269.2" fill="none" stroke="#a0a09a" stroke-width="1.9" stroke-linejoin="round"/>
<path d="M375.5,215.4 L376.3,215.5 L377.1,215.6 L377.9,215.7 L378.7,215.8 L379.5,215.8 L380.3,215.9 L381.1,216.0 L381.9,216.0 L382.7,216.1 L383.5,216.2 L384.3,216.2 L385.1,216.2 L385.9,216.2 L386.7,216.2 L387.5,216.2 L388.3,216.2 L389.1,216.1 L389.9,216.1 L390.7,216.0 L391.5,215.9 L392.3,215.8 L393.1,215.8 L393.9,215.6 L394.7,215.5 L395.5,215.4 L396.3,215.3 L397.1,215.2 L397.9,215.1 L398.7,215.0 L399.5,214.8 L400.3,214.7 L401.1,214.6 L401.9,214.5 L402.7,214.5 L403.5,214.4 L404.3,214.3 L405.1,214.3 L405.9,214.2 L406.7,214.2 L407.5,214.2 L408.3,214.2 L409.1,214.2 L409.9,214.3 L410.7,214.4 L411.5,214.5 L412.3,214.6 L413.1,214.7 L413.9,214.8 L414.7,214.9 L415.5,215.1 L416.3,215.2 L417.1,215.3 L417.9,215.4 L418.7,215.4 L419.5,215.5 L420.3,215.5 L421.1,215.5 L421.9,215.4 L422.7,215.3 L423.5,215.2 L424.3,215.0 L425.1,214.8 L425.9,214.5 L426.7,214.3 L427.5,214.0 L428.3,213.7 L429.1,213.3 L429.9,213.0 L430.7,212.6 L431.5,212.3 L432.3,211.9 L433.1,211.6 L433.9,211.2 L434.7,210.9 L435.5,210.5 L436.3,210.2 L437.1,209.9 L437.9,209.6 L438.7,209.4 L439.5,209.1 L440.3,208.9 L441.1,208.8 L441.9,208.6 L442.7,208.5 L443.5,208.4 L444.3,208.3 L445.1,208.2 L445.9,208.2 L446.7,208.1 L447.5,208.1 L448.3,208.0 L449.1,208.0 L449.9,207.9 L450.7,207.8 L451.5,207.7 L452.3,207.5 L453.1,207.4 L453.9,207.2 L454.7,207.0 L455.5,206.8 L456.3,206.5 L457.1,206.3 L457.9,206.0 L458.7,205.7 L459.5,205.4 L460.3,205.0 L461.1,204.7 L461.9,204.3 L462.7,203.9 L463.5,203.5 L464.3,203.1 L465.1,202.6 L465.9,202.2 L466.7,201.7 L467.5,201.3 L468.3,200.8 L469.1,200.2 L469.9,199.7 L470.7,199.1 L471.5,198.4 L472.3,197.7 L473.1,197.0 L473.9,196.2 L474.7,195.4 L475.5,194.5 L476.3,193.6 L477.1,192.5 L477.9,191.4 L478.7,190.3 L479.5,189.0 L480.3,187.7 L481.1,186.2 L481.9,184.7 L482.7,183.1 L483.5,181.4 L484.3,179.6 L485.1,177.8 L485.9,176.0 L486.7,174.1 L487.5,172.2 L488.3,170.3 L489.1,168.5 L489.9,166.6 L490.7,164.8 L491.5,163.1 L492.3,161.4 L493.1,159.8 L493.9,158.4 L494.7,157.1 L495.5,156.0 L496.3,155.1 L497.1,154.3 L497.9,153.8 L498.7,153.4 L499.5,153.3 L500.3,153.5 L501.1,153.8 L501.9,154.3 L502.7,154.9 L503.5,155.7 L504.3,156.6 L505.1,157.6 L505.9,158.7 L506.7,159.9 L507.5,161.2 L508.3,162.6 L509.1,164.2 L509.9,165.9 L510.7,167.8 L511.5,169.8 L512.3,171.8 L513.1,173.8 L513.9,176.1 L514.7,178.6 L515.5,181.4 L516.3,184.5 L517.1,187.7 L517.9,191.0 L518.7,194.1 L519.5,197.0 L520.3,199.5 L521.1,201.5 L521.9,203.2 L522.7,204.5 L523.5,205.4 L524.3,206.1 L525.1,206.5 L525.9,206.7 L526.7,206.8 L527.5,206.7 L528.3,206.4 L529.1,206.1 L529.9,205.7 L530.7,205.3 L531.5,204.9 L532.3,204.4 L533.1,204.0 L533.9,203.7 L534.7,203.4 L535.5,203.2 L536.3,203.2 L537.1,203.3 L537.9,203.5 L538.7,203.9 L539.5,204.3 L540.3,204.8 L541.1,205.4 L541.9,206.1 L542.7,206.7 L543.5,207.4 L544.3,208.2 L545.1,208.9 L545.9,209.7 L546.7,210.5 L547.5,211.3 L548.3,212.1 L549.1,213.0 L549.9,213.9 L550.7,214.8 L551.5,215.7 L552.3,216.4 L553.1,217.1 L553.9,217.5 L554.7,217.6 L555.5,217.4 L556.3,217.0 L557.1,216.5 L557.9,215.8 L558.7,215.2 L559.5,214.7 L560.3,214.2 L561.1,213.9 L561.9,213.6 L562.7,213.4 L563.5,213.3 L564.3,213.1 L565.1,213.0 L565.9,212.8 L566.7,212.7 L567.5,212.4 L568.3,212.2 L569.1,211.8 L569.9,211.4 L570.7,211.0 L571.5,210.6 L572.3,210.1 L573.1,209.6 L573.9,209.1 L574.7,208.5 L575.5,208.0 L576.3,207.5 L577.1,206.9 L577.9,206.4 L578.7,205.9 L579.5,205.4 L580.3,205.0 L581.1,204.6 L581.9,204.1 L582.7,203.8 L583.5,203.4 L584.3,203.1 L585.1,202.8 L585.9,202.5 L586.7,202.3 L587.5,202.1 L588.3,202.0 L589.1,201.9 L589.9,201.8 L590.7,201.8 L591.5,201.9 L592.3,202.1 L593.1,202.3 L593.9,202.5 L594.7,202.8 L595.5,203.2 L596.3,203.5 L597.1,203.9 L597.9,204.4 L598.7,204.8 L599.5,205.2 L600.3,205.7 L601.1,206.1 L601.9,206.5 L602.7,207.0 L603.5,207.4 L604.3,207.9 L605.1,208.4 L605.9,208.9 L606.7,209.5 L607.5,210.1 L608.3,210.8 L609.1,211.6 L609.9,212.4 L610.7,213.3 L611.5,214.2 L612.3,215.2 L613.1,216.2 L613.9,217.1 L614.7,218.0 L615.5,218.8 L616.3,219.5 L617.1,220.0 L617.9,220.4 L618.7,220.6 L619.5,220.6 L620.3,220.3 L621.1,219.8 L621.9,219.2 L622.7,218.5 L623.5,217.6 L624.3,216.8 L625.1,215.9 L625.9,215.1 L626.7,214.2 L627.5,213.5 L628.3,212.7 L629.1,212.0 L629.9,211.3 L630.7,210.7 L631.5,210.1 L632.3,209.5 L633.1,208.9 L633.9,208.4 L634.7,207.9 L635.5,207.5 L636.3,207.0 L637.1,206.7 L637.9,206.3 L638.7,206.1 L639.5,205.8 L640.3,205.6 L641.1,205.5 L641.9,205.4 L642.7,205.4 L643.5,205.4 L644.3,205.5 L645.1,205.6 L645.9,205.8 L646.7,206.1 L647.5,206.3 L648.3,206.7 L649.1,207.0 L649.9,207.4 L650.7,207.9 L651.5,208.4 L652.3,208.9 L653.1,209.4 L653.9,209.9 L654.7,210.5 L655.5,211.0 L656.3,211.5 L657.1,212.1 L657.9,212.6 L658.7,213.1 L659.5,213.5 L660.3,214.0 L661.1,214.4 L661.9,214.8 L662.7,215.1 L663.5,215.4 L664.3,215.7 L665.1,215.9 L665.9,216.1 L666.7,216.3 L667.5,216.4 L668.3,216.5 L669.1,216.6 L669.9,216.7 L670.7,216.7 L671.5,216.8 L672.3,216.8 L673.1,216.8 L673.9,216.9 L674.7,216.9 L675.5,216.9 L676.3,216.9 L677.1,216.9 L677.9,217.0 L678.7,217.0 L679.5,217.0 L680.3,217.0 L681.1,217.0 L681.5,217.0" fill="none" stroke="#1660b4" stroke-width="1.9" stroke-linejoin="round"/>
<path d="M375.5,144.8 L376.3,144.7 L377.1,144.6 L377.9,144.5 L378.7,144.5 L379.5,144.4 L380.3,144.3 L381.1,144.3 L381.9,144.2 L382.7,144.2 L383.5,144.1 L384.3,144.1 L385.1,144.1 L385.9,144.1 L386.7,144.1 L387.5,144.1 L388.3,144.2 L389.1,144.2 L389.9,144.3 L390.7,144.4 L391.5,144.5 L392.3,144.6 L393.1,144.7 L393.9,144.8 L394.7,144.9 L395.5,145.0 L396.3,145.0 L397.1,145.1 L397.9,145.1 L398.7,145.1 L399.5,145.0 L400.3,144.9 L401.1,144.8 L401.9,144.6 L402.7,144.5 L403.5,144.3 L404.3,144.1 L405.1,143.9 L405.9,143.7 L406.7,143.5 L407.5,143.3 L408.3,143.2 L409.1,143.0 L409.9,142.9 L410.7,142.9 L411.5,142.9 L412.3,142.9 L413.1,142.9 L413.9,143.0 L414.7,143.1 L415.5,143.2 L416.3,143.3 L417.1,143.4 L417.9,143.5 L418.7,143.6 L419.5,143.7 L420.3,143.7 L421.1,143.8 L421.9,143.8 L422.7,143.8 L423.5,143.7 L424.3,143.7 L425.1,143.5 L425.9,143.4 L426.7,143.2 L427.5,142.9 L428.3,142.7 L429.1,142.4 L429.9,142.1 L430.7,141.9 L431.5,141.6 L432.3,141.3 L433.1,141.0 L433.9,140.7 L434.7,140.5 L435.5,140.2 L436.3,140.0 L437.1,139.9 L437.9,139.7 L438.7,139.6 L439.5,139.6 L440.3,139.6 L441.1,139.7 L441.9,139.8 L442.7,139.9 L443.5,140.0 L444.3,140.2 L445.1,140.3 L445.9,140.4 L446.7,140.5 L447.5,140.5 L448.3,140.4 L449.1,140.3 L449.9,140.1 L450.7,139.9 L451.5,139.5 L452.3,139.1 L453.1,138.6 L453.9,138.0 L454.7,137.4 L455.5,136.8 L456.3,136.1 L457.1,135.4 L457.9,134.7 L458.7,134.0 L459.5,133.3 L460.3,132.6 L461.1,131.9 L461.9,131.3 L462.7,130.7 L463.5,130.1 L464.3,129.6 L465.1,129.1 L465.9,128.6 L466.7,128.1 L467.5,127.6 L468.3,127.1 L469.1,126.6 L469.9,126.0 L470.7,125.5 L471.5,124.9 L472.3,124.3 L473.1,123.6 L473.9,122.9 L474.7,122.2 L475.5,121.4 L476.3,120.5 L477.1,119.6 L477.9,118.5 L478.7,117.5 L479.5,116.3 L480.3,115.1 L481.1,113.8 L481.9,112.5 L482.7,111.0 L483.5,109.5 L484.3,108.0 L485.1,106.4 L485.9,104.8 L486.7,103.2 L487.5,101.5 L488.3,99.9 L489.1,98.3 L489.9,96.7 L490.7,95.1 L491.5,93.5 L492.3,92.0 L493.1,90.6 L493.9,89.2 L494.7,88.0 L495.5,86.9 L496.3,86.0 L497.1,85.2 L497.9,84.6 L498.7,84.2 L499.5,84.0 L500.3,84.0 L501.1,84.2 L501.9,84.5 L502.7,85.1 L503.5,85.8 L504.3,86.6 L505.1,87.6 L505.9,88.8 L506.7,90.1 L507.5,91.5 L508.3,92.9 L509.1,94.5 L509.9,96.1 L510.7,97.7 L511.5,99.4 L512.3,101.1 L513.1,102.8 L513.9,104.6 L514.7,106.4 L515.5,108.3 L516.3,110.2 L517.1,112.1 L517.9,114.2 L518.7,116.4 L519.5,118.8 L520.3,121.3 L521.1,123.9 L521.9,126.6 L522.7,129.2 L523.5,131.7 L524.3,134.0 L525.1,135.9 L525.9,137.5 L526.7,138.7 L527.5,139.4 L528.3,139.6 L529.1,139.4 L529.9,139.0 L530.7,138.5 L531.5,138.0 L532.3,137.6 L533.1,137.2 L533.9,137.0 L534.7,136.9 L535.5,136.9 L536.3,137.0 L537.1,137.2 L537.9,137.6 L538.7,138.1 L539.5,138.6 L540.3,139.3 L541.1,140.1 L541.9,140.9 L542.7,141.9 L543.5,142.8 L544.3,143.9 L545.1,145.0 L545.9,146.0 L546.7,146.9 L547.5,147.5 L548.3,147.8 L549.1,147.7 L549.9,147.2 L550.7,146.4 L551.5,145.4 L552.3,144.4 L553.1,143.4 L553.9,142.4 L554.7,141.6 L555.5,140.9 L556.3,140.2 L557.1,139.7 L557.9,139.2 L558.7,138.8 L559.5,138.5 L560.3,138.3 L561.1,138.1 L561.9,138.0 L562.7,137.9 L563.5,137.9 L564.3,138.0 L565.1,138.2 L565.9,138.5 L566.7,138.8 L567.5,139.3 L568.3,139.8 L569.1,140.4 L569.9,140.9 L570.7,141.3 L571.5,141.6 L572.3,141.7 L573.1,141.5 L573.9,141.0 L574.7,140.2 L575.5,139.2 L576.3,138.1 L577.1,136.8 L577.9,135.5 L578.7,134.1 L579.5,132.8 L580.3,131.5 L581.1,130.4 L581.9,129.3 L582.7,128.3 L583.5,127.4 L584.3,126.7 L585.1,126.0 L585.9,125.4 L586.7,124.9 L587.5,124.5 L588.3,124.2 L589.1,124.0 L589.9,123.9 L590.7,123.9 L591.5,124.0 L592.3,124.1 L593.1,124.4 L593.9,124.7 L594.7,125.1 L595.5,125.5 L596.3,126.0 L597.1,126.6 L597.9,127.2 L598.7,127.8 L599.5,128.6 L600.3,129.5 L601.1,130.6 L601.9,131.9 L602.7,133.4 L603.5,135.1 L604.3,137.1 L605.1,139.1 L605.9,141.2 L606.7,143.2 L607.5,145.0 L608.3,146.5 L609.1,147.7 L609.9,148.4 L610.7,148.5 L611.5,148.0 L612.3,147.1 L613.1,145.8 L613.9,144.4 L614.7,143.0 L615.5,141.7 L616.3,140.7 L617.1,139.9 L617.9,139.2 L618.7,138.7 L619.5,138.3 L620.3,138.0 L621.1,137.7 L621.9,137.6 L622.7,137.4 L623.5,137.3 L624.3,137.2 L625.1,137.1 L625.9,137.0 L626.7,136.9 L627.5,136.8 L628.3,136.7 L629.1,136.5 L629.9,136.4 L630.7,136.3 L631.5,136.2 L632.3,136.1 L633.1,136.0 L633.9,135.8 L634.7,135.7 L635.5,135.6 L636.3,135.4 L637.1,135.3 L637.9,135.2 L638.7,135.0 L639.5,134.9 L640.3,134.8 L641.1,134.7 L641.9,134.6 L642.7,134.6 L643.5,134.6 L644.3,134.6 L645.1,134.7 L645.9,134.8 L646.7,135.0 L647.5,135.3 L648.3,135.5 L649.1,135.9 L649.9,136.3 L650.7,136.7 L651.5,137.2 L652.3,137.7 L653.1,138.3 L653.9,139.0 L654.7,139.7 L655.5,140.5 L656.3,141.3 L657.1,142.2 L657.9,143.1 L658.7,144.0 L659.5,144.9 L660.3,145.8 L661.1,146.6 L661.9,147.4 L662.7,148.1 L663.5,148.7 L664.3,149.1 L665.1,149.2 L665.9,149.1 L666.7,148.8 L667.5,148.3 L668.3,147.7 L669.1,147.1 L669.9,146.6 L670.7,146.1 L671.5,145.7 L672.3,145.4 L673.1,145.2 L673.9,145.1 L674.7,145.0 L675.5,145.0 L676.3,145.1 L677.1,145.2 L677.9,145.4 L678.7,145.5 L679.5,145.8 L680.3,146.0 L681.1,146.3 L681.5,146.4" fill="none" stroke="#c8202a" stroke-width="1.9" stroke-linejoin="round"/>
<line x1="500.3" y1="80.4" x2="500.3" y2="149.7" stroke="#c8202a" stroke-width="1.4" stroke-dasharray="5,3.5"/>
<line x1="498" y1="140" x2="498" y2="206.7" stroke="#1660b4" stroke-width="1.4" stroke-dasharray="5,3.5"/>
<line x1="567.1" y1="217.6" x2="567.1" y2="247.5" stroke="#a0a09a" stroke-width="1.4" stroke-dasharray="5,3.5"/>
<text x="504" y="81.7" style="font-family:'Liberation Serif',serif;font-weight:bold;font-size:13px;fill:#c8202a">Ir-O</text>
<text x="471.5" y="151.6" style="font-family:'Liberation Serif',serif;font-weight:bold;font-size:13px;fill:#1660b4">Ir-O</text>
<text x="555" y="256.2" style="font-family:'Liberation Serif',serif;font-weight:bold;font-size:13px;fill:#a0a09a">Ir-Ir</text>
<line x1="385.3" y1="50.8" x2="416.8" y2="50.8" stroke="#c8202a" stroke-width="1.9"/>
<text x="421.5" y="55.8" style="font-family:'Liberation Serif',serif;font-weight:bold;font-size:14px;fill:#c8202a">IrO<tspan dy="3" font-size="9.5px">2</tspan><tspan dy="-3">(101) monolayer</tspan></text>
<line x1="385.3" y1="72" x2="416.8" y2="72" stroke="#1660b4" stroke-width="1.9"/>
<text x="421.5" y="77" style="font-family:'Liberation Serif',serif;font-weight:bold;font-size:14px;fill:#1660b4">Comm IrO<tspan dy="3" font-size="9.5px">2</tspan></text>
<line x1="385.3" y1="93" x2="416.8" y2="93" stroke="#a0a09a" stroke-width="1.9"/>
<text x="421.5" y="98" style="font-family:'Liberation Serif',serif;font-weight:bold;font-size:14px;fill:#a0a09a">Ir foil</text>
<rect x="33.6" y="557.0" width="308.59999999999997" height="249.79999999999995" fill="none" stroke="#000" stroke-width="1.6"/>
<line x1="33.6" y1="806.8" x2="33.6" y2="811.3" stroke="#000" stroke-width="1.5"/>
<text x="33.6" y="823.2" text-anchor="middle" style="font-family:'Liberation Serif',serif;font-weight:bold;font-size:10.5px">0</text>
<line x1="110.8" y1="806.8" x2="110.8" y2="811.3" stroke="#000" stroke-width="1.5"/>
<text x="110.8" y="823.2" text-anchor="middle" style="font-family:'Liberation Serif',serif;font-weight:bold;font-size:10.5px">1</text>
<line x1="187.9" y1="806.8" x2="187.9" y2="811.3" stroke="#000" stroke-width="1.5"/>
<text x="187.9" y="823.2" text-anchor="middle" style="font-family:'Liberation Serif',serif;font-weight:bold;font-size:10.5px">2</text>
<line x1="265.1" y1="806.8" x2="265.1" y2="811.3" stroke="#000" stroke-width="1.5"/>
<text x="265.1" y="823.2" text-anchor="middle" style="font-family:'Liberation Serif',serif;font-weight:bold;font-size:10.5px">3</text>
<line x1="342.2" y1="806.8" x2="342.2" y2="811.3" stroke="#000" stroke-width="1.5"/>
<text x="342.2" y="823.2" text-anchor="middle" style="font-family:'Liberation Serif',serif;font-weight:bold;font-size:10.5px">4</text>
<line x1="72.2" y1="806.8" x2="72.2" y2="809.3" stroke="#000" stroke-width="1.3"/>
<line x1="149.3" y1="806.8" x2="149.3" y2="809.3" stroke="#000" stroke-width="1.3"/>
<line x1="226.5" y1="806.8" x2="226.5" y2="809.3" stroke="#000" stroke-width="1.3"/>
<line x1="303.6" y1="806.8" x2="303.6" y2="809.3" stroke="#000" stroke-width="1.3"/>
<text x="187.7" y="843.4" text-anchor="middle" style="font-family:'Liberation Serif',serif;font-weight:bold;font-size:15px"><tspan font-style="italic">R</tspan><tspan font-weight="normal"> (Å)</tspan></text>
<text transform="translate(18.3,689.8) rotate(-90)" text-anchor="middle" style="font-family:'Liberation Serif',serif;font-weight:bold;font-size:15.3px">|FTk<tspan dy="-5" font-size="9px">2</tspan><tspan dy="5">χ (k)|(Å</tspan><tspan dy="-5" font-size="9px">-3</tspan><tspan dy="5">)</tspan></text>
<path d="M33.6,765.3 L34.4,765.0 L35.2,764.8 L36.0,764.5 L36.8,764.3 L37.6,764.0 L38.4,763.8 L39.2,763.6 L40.0,763.4 L40.8,763.3 L41.6,763.1 L42.4,763.0 L43.2,763.0 L44.0,763.0 L44.8,763.0 L45.6,763.1 L46.4,763.2 L47.2,763.3 L48.0,763.4 L48.8,763.6 L49.6,763.9 L50.4,764.1 L51.2,764.4 L52.0,764.7 L52.8,765.0 L53.6,765.2 L54.4,765.5 L55.2,765.6 L56.0,765.7 L56.8,765.7 L57.6,765.6 L58.4,765.4 L59.2,765.2 L60.0,764.8 L60.8,764.4 L61.6,764.0 L62.4,763.5 L63.2,763.0 L64.0,762.5 L64.8,762.0 L65.6,761.5 L66.4,761.1 L67.2,760.7 L68.0,760.3 L68.8,760.0 L69.6,759.7 L70.4,759.5 L71.2,759.4 L72.0,759.3 L72.8,759.3 L73.6,759.4 L74.4,759.6 L75.2,759.8 L76.0,760.1 L76.8,760.4 L77.6,760.8 L78.4,761.2 L79.2,761.6 L80.0,762.0 L80.8,762.2 L81.6,762.4 L82.4,762.3 L83.2,762.1 L84.0,761.7 L84.8,761.0 L85.6,760.3 L86.4,759.4 L87.2,758.4 L88.0,757.4 L88.8,756.3 L89.6,755.2 L90.4,754.1 L91.2,753.0 L92.0,752.0 L92.8,751.1 L93.6,750.2 L94.4,749.4 L95.2,748.8 L96.0,748.3 L96.8,748.0 L97.6,747.9 L98.4,747.8 L99.2,748.0 L100.0,748.2 L100.8,748.6 L101.6,749.0 L102.4,749.5 L103.2,750.0 L104.0,750.4 L104.8,750.8 L105.6,751.0 L106.4,751.0 L107.2,750.8 L108.0,750.4 L108.8,749.7 L109.6,748.8 L110.4,747.5 L111.2,746.0 L112.0,744.2 L112.8,742.3 L113.6,740.2 L114.4,738.2 L115.2,736.3 L116.0,734.5 L116.8,732.7 L117.6,731.0 L118.4,729.2 L119.2,727.5 L120.0,725.6 L120.8,723.7 L121.6,721.6 L122.4,719.5 L123.2,717.4 L124.0,715.4 L124.8,713.5 L125.6,711.8 L126.4,710.3 L127.2,709.0 L128.0,707.9 L128.8,706.8 L129.6,705.7 L130.4,704.5 L131.2,703.2 L132.0,701.6 L132.8,699.7 L133.6,697.5 L134.4,695.1 L135.2,692.6 L136.0,690.0 L136.8,687.3 L137.6,684.5 L138.4,681.5 L139.2,678.1 L140.0,674.3 L140.8,670.0 L141.6,665.1 L142.4,659.8 L143.2,654.2 L144.0,648.6 L144.8,643.0 L145.6,637.6 L146.4,632.2 L147.2,626.9 L148.0,621.8 L148.8,616.9 L149.6,612.1 L150.4,607.5 L151.2,603.0 L152.0,598.6 L152.8,594.5 L153.6,590.6 L154.4,587.2 L155.2,584.4 L156.0,582.1 L156.8,580.5 L157.6,579.4 L158.4,578.7 L159.2,578.4 L160.0,578.6 L160.8,579.1 L161.6,580.1 L162.4,581.6 L163.2,583.6 L164.0,586.3 L164.8,589.7 L165.6,593.9 L166.4,598.8 L167.2,604.2 L168.0,610.2 L168.8,616.6 L169.6,623.3 L170.4,630.2 L171.2,637.3 L172.0,644.5 L172.8,651.7 L173.6,658.9 L174.4,666.1 L175.2,673.4 L176.0,680.8 L176.8,688.2 L177.6,695.9 L178.4,703.6 L179.2,711.2 L180.0,718.5 L180.8,725.0 L181.6,730.6 L182.4,735.2 L183.2,739.0 L184.0,742.0 L184.8,744.5 L185.6,746.5 L186.4,747.9 L187.2,748.4 L188.0,748.1 L188.8,747.2 L189.6,746.0 L190.4,744.7 L191.2,743.5 L192.0,742.6 L192.8,742.0 L193.6,741.6 L194.4,741.6 L195.2,742.0 L196.0,742.7 L196.8,743.8 L197.6,745.2 L198.4,746.8 L199.2,748.4 L200.0,750.2 L200.8,752.0 L201.6,754.1 L202.4,756.4 L203.2,759.0 L204.0,762.0 L204.8,765.0 L205.6,767.8 L206.4,770.3 L207.2,772.1 L208.0,773.1 L208.8,773.0 L209.6,771.9 L210.4,770.0 L211.2,767.4 L212.0,764.5 L212.8,761.4 L213.6,758.4 L214.4,755.6 L215.2,753.2 L216.0,751.1 L216.8,749.3 L217.6,747.7 L218.4,746.4 L219.2,745.3 L220.0,744.4 L220.8,743.8 L221.6,743.6 L222.4,743.6 L223.2,744.0 L224.0,744.7 L224.8,745.7 L225.6,747.1 L226.4,748.9 L227.2,751.0 L228.0,753.2 L228.8,755.1 L229.6,756.6 L230.4,757.5 L231.2,757.6 L232.0,756.5 L232.8,754.3 L233.6,751.3 L234.4,747.6 L235.2,743.8 L236.0,740.0 L236.8,736.5 L237.6,733.4 L238.4,730.5 L239.2,727.7 L240.0,725.0 L240.8,722.2 L241.6,719.5 L242.4,716.8 L243.2,714.2 L244.0,711.7 L244.8,709.5 L245.6,707.6 L246.4,705.9 L247.2,704.5 L248.0,703.4 L248.8,702.7 L249.6,702.3 L250.4,702.2 L251.2,702.5 L252.0,703.0 L252.8,704.0 L253.6,705.2 L254.4,706.7 L255.2,708.5 L256.0,710.5 L256.8,712.8 L257.6,715.3 L258.4,718.0 L259.2,720.8 L260.0,723.8 L260.8,726.9 L261.6,730.2 L262.4,733.7 L263.2,737.7 L264.0,742.0 L264.8,746.7 L265.6,752.0 L266.4,757.5 L267.2,762.9 L268.0,767.8 L268.8,771.9 L269.6,774.8 L270.4,776.1 L271.2,775.6 L272.0,773.6 L272.8,770.5 L273.6,766.8 L274.4,762.9 L275.2,759.1 L276.0,755.8 L276.8,753.0 L277.6,750.6 L278.4,748.6 L279.2,746.9 L280.0,745.4 L280.8,744.2 L281.6,743.1 L282.4,742.1 L283.2,741.3 L284.0,740.7 L284.8,740.1 L285.6,739.6 L286.4,739.2 L287.2,738.9 L288.0,738.7 L288.8,738.5 L289.6,738.4 L290.4,738.3 L291.2,738.3 L292.0,738.3 L292.8,738.2 L293.6,738.2 L294.4,738.1 L295.2,738.0 L296.0,737.8 L296.8,737.6 L297.6,737.2 L298.4,736.8 L299.2,736.3 L300.0,735.9 L300.8,735.5 L301.6,735.2 L302.4,735.1 L303.2,735.1 L304.0,735.5 L304.8,736.0 L305.6,736.9 L306.4,738.0 L307.2,739.3 L308.0,741.0 L308.8,742.9 L309.6,745.1 L310.4,747.4 L311.2,749.7 L312.0,751.9 L312.8,754.1 L313.6,756.1 L314.4,757.9 L315.2,759.7 L316.0,761.5 L316.8,763.3 L317.6,765.1 L318.4,767.0 L319.2,768.9 L320.0,770.9 L320.8,772.7 L321.6,774.4 L322.4,775.7 L323.2,776.7 L324.0,777.3 L324.8,777.2 L325.6,776.7 L326.4,775.6 L327.2,774.3 L328.0,772.8 L328.8,771.2 L329.6,769.7 L330.4,768.4 L331.2,767.3 L332.0,766.5 L332.8,765.9 L333.6,765.5 L334.4,765.3 L335.2,765.3 L336.0,765.4 L336.8,765.6 L337.6,766.0 L338.4,766.4 L339.2,766.9 L340.0,767.4 L340.8,768.1 L341.6,768.7 L342.0,769.0" fill="none" stroke="#c8202a" stroke-width="1.5" stroke-linejoin="round"/>
<g fill="none" stroke="#ec7478" stroke-width="0.9"><circle cx="33.6" cy="759.3" r="2.8"/><circle cx="36.0" cy="758.8" r="2.8"/><circle cx="38.4" cy="758.5" r="2.8"/><circle cx="40.9" cy="758.3" r="2.8"/><circle cx="43.3" cy="758.2" r="2.8"/><circle cx="45.7" cy="758.2" r="2.8"/><circle cx="48.1" cy="758.6" r="2.8"/><circle cx="50.5" cy="758.9" r="2.8"/><circle cx="53.0" cy="759.0" r="2.8"/><circle cx="55.4" cy="758.8" r="2.8"/><circle cx="57.8" cy="758.4" r="2.8"/><circle cx="60.2" cy="758.0" r="2.8"/><circle cx="62.6" cy="757.2" r="2.8"/><circle cx="65.1" cy="756.5" r="2.8"/><circle cx="67.5" cy="755.7" r="2.8"/><circle cx="69.9" cy="755.1" r="2.8"/><circle cx="72.3" cy="755.1" r="2.8"/><circle cx="74.7" cy="755.3" r="2.8"/><circle cx="77.2" cy="755.7" r="2.8"/><circle cx="79.6" cy="756.1" r="2.8"/><circle cx="82.0" cy="756.1" r="2.8"/><circle cx="84.4" cy="755.0" r="2.8"/><circle cx="86.8" cy="753.6" r="2.8"/><circle cx="89.3" cy="752.2" r="2.8"/><circle cx="91.7" cy="750.9" r="2.8"/><circle cx="94.1" cy="750.7" r="2.8"/><circle cx="96.5" cy="751.0" r="2.8"/><circle cx="98.9" cy="751.3" r="2.8"/><circle cx="101.4" cy="751.6" r="2.8"/><circle cx="103.8" cy="752.2" r="2.8"/><circle cx="106.2" cy="752.3" r="2.8"/><circle cx="108.6" cy="748.3" r="2.8"/><circle cx="111.0" cy="743.4" r="2.8"/><circle cx="113.5" cy="738.5" r="2.8"/><circle cx="115.9" cy="734.3" r="2.8"/><circle cx="118.3" cy="728.8" r="2.8"/><circle cx="120.7" cy="724.5" r="2.8"/><circle cx="123.1" cy="720.7" r="2.8"/><circle cx="125.6" cy="715.9" r="2.8"/><circle cx="128.0" cy="711.1" r="2.8"/><circle cx="130.4" cy="706.4" r="2.8"/><circle cx="132.8" cy="701.0" r="2.8"/><circle cx="135.2" cy="694.4" r="2.8"/><circle cx="137.7" cy="686.1" r="2.8"/><circle cx="140.1" cy="675.5" r="2.8"/><circle cx="142.5" cy="661.7" r="2.8"/><circle cx="144.9" cy="645.9" r="2.8"/><circle cx="147.3" cy="630.6" r="2.8"/><circle cx="149.8" cy="615.9" r="2.8"/><circle cx="152.2" cy="603.8" r="2.8"/><circle cx="154.6" cy="595.1" r="2.8"/><circle cx="157.0" cy="589.6" r="2.8"/><circle cx="159.4" cy="587.6" r="2.8"/><circle cx="161.9" cy="591.0" r="2.8"/><circle cx="164.3" cy="601.0" r="2.8"/><circle cx="166.7" cy="612.2" r="2.8"/><circle cx="169.1" cy="626.5" r="2.8"/><circle cx="171.5" cy="643.7" r="2.8"/><circle cx="174.0" cy="662.6" r="2.8"/><circle cx="176.4" cy="682.5" r="2.8"/><circle cx="178.8" cy="700.6" r="2.8"/><circle cx="181.2" cy="717.0" r="2.8"/><circle cx="183.6" cy="729.8" r="2.8"/><circle cx="186.1" cy="737.8" r="2.8"/><circle cx="188.5" cy="740.3" r="2.8"/><circle cx="190.9" cy="740.1" r="2.8"/><circle cx="193.3" cy="737.4" r="2.8"/><circle cx="195.7" cy="736.5" r="2.8"/><circle cx="198.2" cy="736.8" r="2.8"/><circle cx="200.6" cy="739.2" r="2.8"/><circle cx="203.0" cy="743.6" r="2.8"/><circle cx="205.4" cy="749.3" r="2.8"/><circle cx="207.8" cy="755.6" r="2.8"/><circle cx="210.3" cy="760.6" r="2.8"/><circle cx="212.7" cy="761.4" r="2.8"/><circle cx="215.1" cy="761.7" r="2.8"/><circle cx="217.5" cy="760.5" r="2.8"/><circle cx="219.9" cy="759.0" r="2.8"/><circle cx="222.4" cy="758.3" r="2.8"/><circle cx="224.8" cy="758.0" r="2.8"/><circle cx="227.2" cy="758.6" r="2.8"/><circle cx="229.6" cy="760.0" r="2.8"/><circle cx="232.0" cy="761.7" r="2.8"/><circle cx="234.5" cy="764.0" r="2.8"/><circle cx="236.9" cy="766.7" r="2.8"/><circle cx="239.3" cy="768.4" r="2.8"/><circle cx="241.7" cy="768.3" r="2.8"/><circle cx="244.1" cy="767.6" r="2.8"/><circle cx="246.6" cy="767.4" r="2.8"/><circle cx="249.0" cy="767.2" r="2.8"/><circle cx="251.4" cy="767.3" r="2.8"/><circle cx="253.8" cy="767.8" r="2.8"/><circle cx="256.2" cy="768.2" r="2.8"/><circle cx="258.7" cy="768.6" r="2.8"/><circle cx="261.1" cy="769.3" r="2.8"/><circle cx="263.5" cy="770.4" r="2.8"/><circle cx="265.9" cy="771.3" r="2.8"/><circle cx="268.3" cy="772.2" r="2.8"/><circle cx="270.8" cy="772.5" r="2.8"/><circle cx="273.2" cy="772.1" r="2.8"/><circle cx="275.6" cy="771.7" r="2.8"/><circle cx="278.0" cy="771.4" r="2.8"/><circle cx="280.4" cy="771.3" r="2.8"/><circle cx="282.9" cy="772.1" r="2.8"/><circle cx="285.3" cy="773.1" r="2.8"/><circle cx="287.7" cy="774.3" r="2.8"/><circle cx="290.1" cy="775.0" r="2.8"/><circle cx="292.5" cy="774.8" r="2.8"/><circle cx="295.0" cy="774.5" r="2.8"/><circle cx="297.4" cy="774.0" r="2.8"/><circle cx="299.8" cy="773.7" r="2.8"/><circle cx="302.2" cy="774.1" r="2.8"/><circle cx="304.6" cy="774.9" r="2.8"/><circle cx="307.1" cy="775.5" r="2.8"/><circle cx="309.5" cy="775.9" r="2.8"/><circle cx="311.9" cy="776.3" r="2.8"/><circle cx="314.3" cy="776.5" r="2.8"/><circle cx="316.7" cy="776.4" r="2.8"/><circle cx="319.2" cy="776.1" r="2.8"/><circle cx="321.6" cy="776.2" r="2.8"/><circle cx="324.0" cy="776.4" r="2.8"/><circle cx="326.4" cy="776.6" r="2.8"/><circle cx="328.8" cy="776.9" r="2.8"/><circle cx="331.3" cy="777.1" r="2.8"/><circle cx="333.7" cy="777.4" r="2.8"/><circle cx="336.1" cy="777.6" r="2.8"/><circle cx="338.5" cy="777.7" r="2.8"/><circle cx="340.9" cy="777.8" r="2.8"/></g>
<line x1="189.2" y1="569.8" x2="218" y2="569.8" stroke="#c8202a" stroke-width="1.5"/>
<text x="222.2" y="574.8" style="font-family:'Liberation Serif',serif;font-weight:bold;font-size:13px;fill:#c8202a">IrO<tspan dy="3" font-size="9px">2</tspan><tspan dy="-3">(101) monolayer</tspan></text>
<circle cx="204.1" cy="589.3" r="3" fill="none" stroke="#e8686c" stroke-width="0.8"/>
<text x="222.2" y="593.4" style="font-family:'Liberation Serif',serif;font-weight:bold;font-size:13px;fill:#c8202a">Fit</text>
<rect x="36.0" y="376.0" width="187" height="116" fill="none" stroke="#8c8c8c" stroke-width="1"/>
<line x1="32.0" y1="491.5" x2="36.0" y2="491.5" stroke="#555" stroke-width="1"/>
<text x="29.5" y="495.1" text-anchor="end" style="font-family:'Liberation Sans',sans-serif;font-size:10px;fill:#222">0.5</text>
<line x1="32.0" y1="472.3" x2="36.0" y2="472.3" stroke="#555" stroke-width="1"/>
<text x="29.5" y="475.9" text-anchor="end" style="font-family:'Liberation Sans',sans-serif;font-size:10px;fill:#222">1.0</text>
<line x1="32.0" y1="453.2" x2="36.0" y2="453.2" stroke="#555" stroke-width="1"/>
<text x="29.5" y="456.8" text-anchor="end" style="font-family:'Liberation Sans',sans-serif;font-size:10px;fill:#222">1.5</text>
<line x1="32.0" y1="434.0" x2="36.0" y2="434.0" stroke="#555" stroke-width="1"/>
<text x="29.5" y="437.6" text-anchor="end" style="font-family:'Liberation Sans',sans-serif;font-size:10px;fill:#222">2.0</text>
<line x1="32.0" y1="414.8" x2="36.0" y2="414.8" stroke="#555" stroke-width="1"/>
<text x="29.5" y="418.4" text-anchor="end" style="font-family:'Liberation Sans',sans-serif;font-size:10px;fill:#222">2.5</text>
<line x1="32.0" y1="395.7" x2="36.0" y2="395.7" stroke="#555" stroke-width="1"/>
<text x="29.5" y="399.3" text-anchor="end" style="font-family:'Liberation Sans',sans-serif;font-size:10px;fill:#222">3.0</text>
<line x1="32.0" y1="376.5" x2="36.0" y2="376.5" stroke="#555" stroke-width="1"/>
<text x="29.5" y="380.1" text-anchor="end" style="font-family:'Liberation Sans',sans-serif;font-size:10px;fill:#222">3.5</text>
<line x1="36.5" y1="492.0" x2="36.5" y2="496.0" stroke="#555" stroke-width="1"/>
<text x="36.5" y="508.5" text-anchor="middle" style="font-family:'Liberation Sans',sans-serif;font-size:10px;fill:#222">0</text>
<line x1="67.5" y1="492.0" x2="67.5" y2="496.0" stroke="#555" stroke-width="1"/>
<text x="67.5" y="508.5" text-anchor="middle" style="font-family:'Liberation Sans',sans-serif;font-size:10px;fill:#222">2</text>
<line x1="98.5" y1="492.0" x2="98.5" y2="496.0" stroke="#555" stroke-width="1"/>
<text x="98.5" y="508.5" text-anchor="middle" style="font-family:'Liberation Sans',sans-serif;font-size:10px;fill:#222">4</text>
<line x1="129.5" y1="492.0" x2="129.5" y2="496.0" stroke="#555" stroke-width="1"/>
<text x="129.5" y="508.5" text-anchor="middle" style="font-family:'Liberation Sans',sans-serif;font-size:10px;fill:#222">6</text>
<line x1="160.5" y1="492.0" x2="160.5" y2="496.0" stroke="#555" stroke-width="1"/>
<text x="160.5" y="508.5" text-anchor="middle" style="font-family:'Liberation Sans',sans-serif;font-size:10px;fill:#222">8</text>
<line x1="191.5" y1="492.0" x2="191.5" y2="496.0" stroke="#555" stroke-width="1"/>
<text x="191.5" y="508.5" text-anchor="middle" style="font-family:'Liberation Sans',sans-serif;font-size:10px;fill:#222">10</text>
<line x1="222.5" y1="492.0" x2="222.5" y2="496.0" stroke="#555" stroke-width="1"/>
<text x="222.5" y="508.5" text-anchor="middle" style="font-family:'Liberation Sans',sans-serif;font-size:10px;fill:#222">12</text>
<text x="132.5" y="522.5" text-anchor="middle" style="font-family:'Liberation Sans',sans-serif;font-size:11.5px;fill:#222"><tspan font-style="italic">k</tspan> (Å<tspan dy="-5" font-size="8px">-1</tspan><tspan dy="5">)</tspan></text>
<text transform="translate(11.5,439.0) rotate(-90)" text-anchor="middle" style="font-family:'Liberation Sans',sans-serif;font-size:12px;fill:#222"><tspan font-style="italic">R</tspan>+<tspan font-style="italic">α</tspan> (Å)</text>
<rect x="263.5" y="375.0" width="188" height="116" fill="none" stroke="#8c8c8c" stroke-width="1"/>
<line x1="259.5" y1="490.5" x2="263.5" y2="490.5" stroke="#555" stroke-width="1"/>
<text x="257.0" y="494.1" text-anchor="end" style="font-family:'Liberation Sans',sans-serif;font-size:10px;fill:#222">0.5</text>
<line x1="259.5" y1="471.3" x2="263.5" y2="471.3" stroke="#555" stroke-width="1"/>
<text x="257.0" y="474.9" text-anchor="end" style="font-family:'Liberation Sans',sans-serif;font-size:10px;fill:#222">1.0</text>
<line x1="259.5" y1="452.2" x2="263.5" y2="452.2" stroke="#555" stroke-width="1"/>
<text x="257.0" y="455.8" text-anchor="end" style="font-family:'Liberation Sans',sans-serif;font-size:10px;fill:#222">1.5</text>
<line x1="259.5" y1="433.0" x2="263.5" y2="433.0" stroke="#555" stroke-width="1"/>
<text x="257.0" y="436.6" text-anchor="end" style="font-family:'Liberation Sans',sans-serif;font-size:10px;fill:#222">2.0</text>
<line x1="259.5" y1="413.8" x2="263.5" y2="413.8" stroke="#555" stroke-width="1"/>
<text x="257.0" y="417.4" text-anchor="end" style="font-family:'Liberation Sans',sans-serif;font-size:10px;fill:#222">2.5</text>
<line x1="259.5" y1="394.7" x2="263.5" y2="394.7" stroke="#555" stroke-width="1"/>
<text x="257.0" y="398.3" text-anchor="end" style="font-family:'Liberation Sans',sans-serif;font-size:10px;fill:#222">3.0</text>
<line x1="259.5" y1="375.5" x2="263.5" y2="375.5" stroke="#555" stroke-width="1"/>
<text x="257.0" y="379.1" text-anchor="end" style="font-family:'Liberation Sans',sans-serif;font-size:10px;fill:#222">3.5</text>
<line x1="264.0" y1="491.0" x2="264.0" y2="495.0" stroke="#555" stroke-width="1"/>
<text x="264.0" y="507.5" text-anchor="middle" style="font-family:'Liberation Sans',sans-serif;font-size:10px;fill:#222">0</text>
<line x1="295.2" y1="491.0" x2="295.2" y2="495.0" stroke="#555" stroke-width="1"/>
<text x="295.2" y="507.5" text-anchor="middle" style="font-family:'Liberation Sans',sans-serif;font-size:10px;fill:#222">2</text>
<line x1="326.3" y1="491.0" x2="326.3" y2="495.0" stroke="#555" stroke-width="1"/>
<text x="326.3" y="507.5" text-anchor="middle" style="font-family:'Liberation Sans',sans-serif;font-size:10px;fill:#222">4</text>
<line x1="357.5" y1="491.0" x2="357.5" y2="495.0" stroke="#555" stroke-width="1"/>
<text x="357.5" y="507.5" text-anchor="middle" style="font-family:'Liberation Sans',sans-serif;font-size:10px;fill:#222">6</text>
<line x1="388.7" y1="491.0" x2="388.7" y2="495.0" stroke="#555" stroke-width="1"/>
<text x="388.7" y="507.5" text-anchor="middle" style="font-family:'Liberation Sans',sans-serif;font-size:10px;fill:#222">8</text>
<line x1="419.8" y1="491.0" x2="419.8" y2="495.0" stroke="#555" stroke-width="1"/>
<text x="419.8" y="507.5" text-anchor="middle" style="font-family:'Liberation Sans',sans-serif;font-size:10px;fill:#222">10</text>
<line x1="451.0" y1="491.0" x2="451.0" y2="495.0" stroke="#555" stroke-width="1"/>
<text x="451.0" y="507.5" text-anchor="middle" style="font-family:'Liberation Sans',sans-serif;font-size:10px;fill:#222">12</text>
<text x="360.5" y="521.5" text-anchor="middle" style="font-family:'Liberation Sans',sans-serif;font-size:11.5px;fill:#222"><tspan font-style="italic">k</tspan> (Å<tspan dy="-5" font-size="8px">-1</tspan><tspan dy="5">)</tspan></text>
<text transform="translate(239.0,438.0) rotate(-90)" text-anchor="middle" style="font-family:'Liberation Sans',sans-serif;font-size:12px;fill:#222"><tspan font-style="italic">R</tspan>+<tspan font-style="italic">α</tspan> (Å)</text>
<rect x="491.8" y="377.3" width="188" height="116.5" fill="none" stroke="#8c8c8c" stroke-width="1"/>
<line x1="487.8" y1="493.3" x2="491.8" y2="493.3" stroke="#555" stroke-width="1"/>
<text x="485.5" y="496.9" text-anchor="end" style="font-family:'Liberation Sans',sans-serif;font-size:10px;fill:#222">1.0</text>
<line x1="487.8" y1="470.2" x2="491.8" y2="470.2" stroke="#555" stroke-width="1"/>
<text x="485.5" y="473.8" text-anchor="end" style="font-family:'Liberation Sans',sans-serif;font-size:10px;fill:#222">1.5</text>
<line x1="487.8" y1="447.1" x2="491.8" y2="447.1" stroke="#555" stroke-width="1"/>
<text x="485.5" y="450.7" text-anchor="end" style="font-family:'Liberation Sans',sans-serif;font-size:10px;fill:#222">2.0</text>
<line x1="487.8" y1="424.0" x2="491.8" y2="424.0" stroke="#555" stroke-width="1"/>
<text x="485.5" y="427.6" text-anchor="end" style="font-family:'Liberation Sans',sans-serif;font-size:10px;fill:#222">2.5</text>
<line x1="487.8" y1="400.9" x2="491.8" y2="400.9" stroke="#555" stroke-width="1"/>
<text x="485.5" y="404.5" text-anchor="end" style="font-family:'Liberation Sans',sans-serif;font-size:10px;fill:#222">3.0</text>
<line x1="487.8" y1="377.8" x2="491.8" y2="377.8" stroke="#555" stroke-width="1"/>
<text x="485.5" y="381.4" text-anchor="end" style="font-family:'Liberation Sans',sans-serif;font-size:10px;fill:#222">3.5</text>
<line x1="492.3" y1="493.8" x2="492.3" y2="497.8" stroke="#555" stroke-width="1"/>
<text x="492.3" y="510.3" text-anchor="middle" style="font-family:'Liberation Sans',sans-serif;font-size:10px;fill:#222">0</text>
<line x1="523.5" y1="493.8" x2="523.5" y2="497.8" stroke="#555" stroke-width="1"/>
<text x="523.5" y="510.3" text-anchor="middle" style="font-family:'Liberation Sans',sans-serif;font-size:10px;fill:#222">2</text>
<line x1="554.6" y1="493.8" x2="554.6" y2="497.8" stroke="#555" stroke-width="1"/>
<text x="554.6" y="510.3" text-anchor="middle" style="font-family:'Liberation Sans',sans-serif;font-size:10px;fill:#222">4</text>
<line x1="585.8" y1="493.8" x2="585.8" y2="497.8" stroke="#555" stroke-width="1"/>
<text x="585.8" y="510.3" text-anchor="middle" style="font-family:'Liberation Sans',sans-serif;font-size:10px;fill:#222">6</text>
<line x1="617.0" y1="493.8" x2="617.0" y2="497.8" stroke="#555" stroke-width="1"/>
<text x="617.0" y="510.3" text-anchor="middle" style="font-family:'Liberation Sans',sans-serif;font-size:10px;fill:#222">8</text>
<line x1="648.1" y1="493.8" x2="648.1" y2="497.8" stroke="#555" stroke-width="1"/>
<text x="648.1" y="510.3" text-anchor="middle" style="font-family:'Liberation Sans',sans-serif;font-size:10px;fill:#222">10</text>
<line x1="679.3" y1="493.8" x2="679.3" y2="497.8" stroke="#555" stroke-width="1"/>
<text x="679.3" y="510.3" text-anchor="middle" style="font-family:'Liberation Sans',sans-serif;font-size:10px;fill:#222">12</text>
<text x="588.8" y="524.3" text-anchor="middle" style="font-family:'Liberation Sans',sans-serif;font-size:11.5px;fill:#222"><tspan font-style="italic">k</tspan> (Å<tspan dy="-5" font-size="8px">-1</tspan><tspan dy="5">)</tspan></text>
<text transform="translate(467.3,440.6) rotate(-90)" text-anchor="middle" style="font-family:'Liberation Sans',sans-serif;font-size:12px;fill:#222"><tspan font-style="italic">R</tspan>+<tspan font-style="italic">α</tspan> (Å)</text>
<text x="218" y="487" text-anchor="end" style="font-family:'Liberation Serif',serif;font-weight:bold;font-size:12px;fill:#fff">IrO<tspan dy="2.5" font-size="8.5px">2</tspan><tspan dy="-2.5">(101) monolayer</tspan></text>
<text x="447" y="486.5" text-anchor="end" style="font-family:'Liberation Serif',serif;font-weight:bold;font-size:12px;fill:#fff">Comm IrO<tspan dy="2.5" font-size="8.5px">2</tspan></text>
<text x="675" y="488.5" text-anchor="end" style="font-family:'Liberation Serif',serif;font-weight:bold;font-size:12px;fill:#fff">Ir foil</text>
<line x1="77.5" y1="453.6" x2="223" y2="453.6" stroke="#f80000" stroke-width="2.8" stroke-dasharray="9.5,5.5"/>
<line x1="230" y1="453.5" x2="388" y2="453.5" stroke="#f80000" stroke-width="2.8" stroke-dasharray="9.5,5.5"/>
<line x1="312.6" y1="420.6" x2="643" y2="420.6" stroke="#f80000" stroke-width="2.8" stroke-dasharray="9.5,5.5"/>
<defs><radialGradient id="og" cx="0.4" cy="0.35" r="0.7"><stop offset="0" stop-color="#ff8080"/><stop offset="0.35" stop-color="#f01010"/><stop offset="1" stop-color="#c00000"/></radialGradient><radialGradient id="irg" cx="0.5" cy="0.45" r="0.6"><stop offset="0" stop-color="#f2f6c6"/><stop offset="1" stop-color="#d2da8c"/></radialGradient></defs>
<polygon points="398.8,585.0 428.9,591.4 423.5,618.6 393.9,612.5" fill="#bec480" /><polygon points="398.8,585.0 408.7,591.8 393.9,612.5" fill="#a6ac6a" /><polygon points="408.7,591.8 423.5,618.6 393.9,612.5" fill="#d6dc96" /><polygon points="408.7,591.8 428.9,591.4 423.5,618.6" fill="#c6cc88" />
<polygon points="458.8,585.0 488.9,591.4 483.5,618.6 453.9,612.5" fill="#bec480" /><polygon points="458.8,585.0 468.7,591.8 453.9,612.5" fill="#a6ac6a" /><polygon points="468.7,591.8 483.5,618.6 453.9,612.5" fill="#d6dc96" /><polygon points="468.7,591.8 488.9,591.4 483.5,618.6" fill="#c6cc88" />
<polygon points="518.8,585.0 548.9,591.4 543.5,618.6 513.9,612.5" fill="#bec480" /><polygon points="518.8,585.0 528.7,591.8 513.9,612.5" fill="#a6ac6a" /><polygon points="528.7,591.8 543.5,618.6 513.9,612.5" fill="#d6dc96" /><polygon points="528.7,591.8 548.9,591.4 543.5,618.6" fill="#c6cc88" />
<polygon points="578.8,585.0 608.9,591.4 603.5,618.6 573.9,612.5" fill="#bec480" /><polygon points="578.8,585.0 588.7,591.8 573.9,612.5" fill="#a6ac6a" /><polygon points="588.7,591.8 603.5,618.6 573.9,612.5" fill="#d6dc96" /><polygon points="588.7,591.8 608.9,591.4 603.5,618.6" fill="#c6cc88" />
<polygon points="423.5,618.6 453.6,612.2 458.9,638.7 428.5,645.2" fill="#bec480" /><polygon points="423.5,618.6 438.8,639.3 428.5,645.2" fill="#a6ac6a" /><polygon points="423.5,618.6 453.6,612.2 438.8,639.3" fill="#d6dc96" /><polygon points="453.6,612.2 458.9,638.7 438.8,639.3" fill="#c6cc88" />
<polygon points="483.5,618.6 513.6,612.2 518.9,638.7 488.5,645.2" fill="#bec480" /><polygon points="483.5,618.6 498.8,639.3 488.5,645.2" fill="#a6ac6a" /><polygon points="483.5,618.6 513.6,612.2 498.8,639.3" fill="#d6dc96" /><polygon points="513.6,612.2 518.9,638.7 498.8,639.3" fill="#c6cc88" />
<polygon points="543.5,618.6 573.6,612.2 578.9,638.7 548.5,645.2" fill="#bec480" /><polygon points="543.5,618.6 558.8,639.3 548.5,645.2" fill="#a6ac6a" /><polygon points="543.5,618.6 573.6,612.2 558.8,639.3" fill="#d6dc96" /><polygon points="573.6,612.2 578.9,638.7 558.8,639.3" fill="#c6cc88" />
<polygon points="398.8,638.7 428.9,645.1 423.5,672.3 393.9,666.2" fill="#bec480" /><polygon points="398.8,638.7 408.7,645.5 393.9,666.2" fill="#a6ac6a" /><polygon points="408.7,645.5 423.5,672.3 393.9,666.2" fill="#d6dc96" /><polygon points="408.7,645.5 428.9,645.1 423.5,672.3" fill="#c6cc88" />
<polygon points="458.8,638.7 488.9,645.1 483.5,672.3 453.9,666.2" fill="#bec480" /><polygon points="458.8,638.7 468.7,645.5 453.9,666.2" fill="#a6ac6a" /><polygon points="468.7,645.5 483.5,672.3 453.9,666.2" fill="#d6dc96" /><polygon points="468.7,645.5 488.9,645.1 483.5,672.3" fill="#c6cc88" />
<polygon points="518.8,638.7 548.9,645.1 543.5,672.3 513.9,666.2" fill="#bec480" /><polygon points="518.8,638.7 528.7,645.5 513.9,666.2" fill="#a6ac6a" /><polygon points="528.7,645.5 543.5,672.3 513.9,666.2" fill="#d6dc96" /><polygon points="528.7,645.5 548.9,645.1 543.5,672.3" fill="#c6cc88" />
<polygon points="578.8,638.7 608.9,645.1 603.5,672.3 573.9,666.2" fill="#bec480" /><polygon points="578.8,638.7 588.7,645.5 573.9,666.2" fill="#a6ac6a" /><polygon points="588.7,645.5 603.5,672.3 573.9,666.2" fill="#d6dc96" /><polygon points="588.7,645.5 608.9,645.1 603.5,672.3" fill="#c6cc88" />
<polygon points="423.5,672.3 453.6,665.9 458.9,692.4 428.5,698.9" fill="#bec480" /><polygon points="423.5,672.3 438.8,693.0 428.5,698.9" fill="#a6ac6a" /><polygon points="423.5,672.3 453.6,665.9 438.8,693.0" fill="#d6dc96" /><polygon points="453.6,665.9 458.9,692.4 438.8,693.0" fill="#c6cc88" />
<polygon points="483.5,672.3 513.6,665.9 518.9,692.4 488.5,698.9" fill="#bec480" /><polygon points="483.5,672.3 498.8,693.0 488.5,698.9" fill="#a6ac6a" /><polygon points="483.5,672.3 513.6,665.9 498.8,693.0" fill="#d6dc96" /><polygon points="513.6,665.9 518.9,692.4 498.8,693.0" fill="#c6cc88" />
<polygon points="543.5,672.3 573.6,665.9 578.9,692.4 548.5,698.9" fill="#bec480" /><polygon points="543.5,672.3 558.8,693.0 548.5,698.9" fill="#a6ac6a" /><polygon points="543.5,672.3 573.6,665.9 558.8,693.0" fill="#d6dc96" /><polygon points="573.6,665.9 578.9,692.4 558.8,693.0" fill="#c6cc88" />
<polygon points="398.8,692.4 428.9,698.8 423.5,726.0 393.9,719.9" fill="#bec480" /><polygon points="398.8,692.4 408.7,699.2 393.9,719.9" fill="#a6ac6a" /><polygon points="408.7,699.2 423.5,726.0 393.9,719.9" fill="#d6dc96" /><polygon points="408.7,699.2 428.9,698.8 423.5,726.0" fill="#c6cc88" />
<polygon points="458.8,692.4 488.9,698.8 483.5,726.0 453.9,719.9" fill="#bec480" /><polygon points="458.8,692.4 468.7,699.2 453.9,719.9" fill="#a6ac6a" /><polygon points="468.7,699.2 483.5,726.0 453.9,719.9" fill="#d6dc96" /><polygon points="468.7,699.2 488.9,698.8 483.5,726.0" fill="#c6cc88" />
<polygon points="518.8,692.4 548.9,698.8 543.5,726.0 513.9,719.9" fill="#bec480" /><polygon points="518.8,692.4 528.7,699.2 513.9,719.9" fill="#a6ac6a" /><polygon points="528.7,699.2 543.5,726.0 513.9,719.9" fill="#d6dc96" /><polygon points="528.7,699.2 548.9,698.8 543.5,726.0" fill="#c6cc88" />
<polygon points="578.8,692.4 608.9,698.8 603.5,726.0 573.9,719.9" fill="#bec480" /><polygon points="578.8,692.4 588.7,699.2 573.9,719.9" fill="#a6ac6a" /><polygon points="588.7,699.2 603.5,726.0 573.9,719.9" fill="#d6dc96" /><polygon points="588.7,699.2 608.9,698.8 603.5,726.0" fill="#c6cc88" />
<polygon points="423.5,726.0 453.6,719.6 458.9,746.1 428.5,752.6" fill="#bec480" /><polygon points="423.5,726.0 438.8,746.7 428.5,752.6" fill="#a6ac6a" /><polygon points="423.5,726.0 453.6,719.6 438.8,746.7" fill="#d6dc96" /><polygon points="453.6,719.6 458.9,746.1 438.8,746.7" fill="#c6cc88" />
<polygon points="483.5,726.0 513.6,719.6 518.9,746.1 488.5,752.6" fill="#bec480" /><polygon points="483.5,726.0 498.8,746.7 488.5,752.6" fill="#a6ac6a" /><polygon points="483.5,726.0 513.6,719.6 498.8,746.7" fill="#d6dc96" /><polygon points="513.6,719.6 518.9,746.1 498.8,746.7" fill="#c6cc88" />
<polygon points="543.5,726.0 573.6,719.6 578.9,746.1 548.5,752.6" fill="#bec480" /><polygon points="543.5,726.0 558.8,746.7 548.5,752.6" fill="#a6ac6a" /><polygon points="543.5,726.0 573.6,719.6 558.8,746.7" fill="#d6dc96" /><polygon points="573.6,719.6 578.9,746.1 558.8,746.7" fill="#c6cc88" />
<polygon points="398.8,746.1 428.9,752.5 423.5,779.7 393.9,773.6" fill="#bec480" /><polygon points="398.8,746.1 408.7,752.9 393.9,773.6" fill="#a6ac6a" /><polygon points="408.7,752.9 423.5,779.7 393.9,773.6" fill="#d6dc96" /><polygon points="408.7,752.9 428.9,752.5 423.5,779.7" fill="#c6cc88" />
<polygon points="458.8,746.1 488.9,752.5 483.5,779.7 453.9,773.6" fill="#bec480" /><polygon points="458.8,746.1 468.7,752.9 453.9,773.6" fill="#a6ac6a" /><polygon points="468.7,752.9 483.5,779.7 453.9,773.6" fill="#d6dc96" /><polygon points="468.7,752.9 488.9,752.5 483.5,779.7" fill="#c6cc88" />
<polygon points="518.8,746.1 548.9,752.5 543.5,779.7 513.9,773.6" fill="#bec480" /><polygon points="518.8,746.1 528.7,752.9 513.9,773.6" fill="#a6ac6a" /><polygon points="528.7,752.9 543.5,779.7 513.9,773.6" fill="#d6dc96" /><polygon points="528.7,752.9 548.9,752.5 543.5,779.7" fill="#c6cc88" />
<polygon points="578.8,746.1 608.9,752.5 603.5,779.7 573.9,773.6" fill="#bec480" /><polygon points="578.8,746.1 588.7,752.9 573.9,773.6" fill="#a6ac6a" /><polygon points="588.7,752.9 603.5,779.7 573.9,773.6" fill="#d6dc96" /><polygon points="588.7,752.9 608.9,752.5 603.5,779.7" fill="#c6cc88" />
<circle cx="413.9" cy="611.9" r="3.1" fill="#d9925a" opacity="0.9"/>
<line x1="411.0" y1="601.9" x2="404.9" y2="593.5" stroke="#d6dc8a" stroke-width="2"/><line x1="404.9" y1="593.5" x2="400.3" y2="587.0" stroke="#e2783e" stroke-width="2"/>
<line x1="411.0" y1="601.9" x2="419.9" y2="596.6" stroke="#d6dc8a" stroke-width="2"/><line x1="419.9" y1="596.6" x2="426.8" y2="592.7" stroke="#e2783e" stroke-width="2"/>
<line x1="411.0" y1="601.9" x2="417.2" y2="610.2" stroke="#d6dc8a" stroke-width="2"/><line x1="417.2" y1="610.2" x2="422.0" y2="616.6" stroke="#e2783e" stroke-width="2"/>
<line x1="411.0" y1="601.9" x2="402.4" y2="607.2" stroke="#d6dc8a" stroke-width="2"/><line x1="402.4" y1="607.2" x2="396.0" y2="611.2" stroke="#e2783e" stroke-width="2"/>
<line x1="411.0" y1="601.9" x2="412.4" y2="606.9" stroke="#d6dc8a" stroke-width="2"/><line x1="412.4" y1="606.9" x2="413.6" y2="610.7" stroke="#e2783e" stroke-width="2"/>
<circle cx="473.9" cy="611.9" r="3.1" fill="#d9925a" opacity="0.9"/>
<line x1="471.0" y1="601.9" x2="464.9" y2="593.5" stroke="#d6dc8a" stroke-width="2"/><line x1="464.9" y1="593.5" x2="460.3" y2="587.0" stroke="#e2783e" stroke-width="2"/>
<line x1="471.0" y1="601.9" x2="479.9" y2="596.6" stroke="#d6dc8a" stroke-width="2"/><line x1="479.9" y1="596.6" x2="486.8" y2="592.7" stroke="#e2783e" stroke-width="2"/>
<line x1="471.0" y1="601.9" x2="477.2" y2="610.2" stroke="#d6dc8a" stroke-width="2"/><line x1="477.2" y1="610.2" x2="482.0" y2="616.6" stroke="#e2783e" stroke-width="2"/>
<line x1="471.0" y1="601.9" x2="462.4" y2="607.2" stroke="#d6dc8a" stroke-width="2"/><line x1="462.4" y1="607.2" x2="456.0" y2="611.2" stroke="#e2783e" stroke-width="2"/>
<line x1="471.0" y1="601.9" x2="472.4" y2="606.9" stroke="#d6dc8a" stroke-width="2"/><line x1="472.4" y1="606.9" x2="473.6" y2="610.7" stroke="#e2783e" stroke-width="2"/>
<circle cx="533.9" cy="611.9" r="3.1" fill="#d9925a" opacity="0.9"/>
<line x1="531.0" y1="601.9" x2="524.9" y2="593.5" stroke="#d6dc8a" stroke-width="2"/><line x1="524.9" y1="593.5" x2="520.3" y2="587.0" stroke="#e2783e" stroke-width="2"/>
<line x1="531.0" y1="601.9" x2="540.0" y2="596.6" stroke="#d6dc8a" stroke-width="2"/><line x1="540.0" y1="596.6" x2="546.8" y2="592.7" stroke="#e2783e" stroke-width="2"/>
<line x1="531.0" y1="601.9" x2="537.2" y2="610.2" stroke="#d6dc8a" stroke-width="2"/><line x1="537.2" y1="610.2" x2="542.0" y2="616.6" stroke="#e2783e" stroke-width="2"/>
<line x1="531.0" y1="601.9" x2="522.5" y2="607.2" stroke="#d6dc8a" stroke-width="2"/><line x1="522.5" y1="607.2" x2="516.0" y2="611.2" stroke="#e2783e" stroke-width="2"/>
<line x1="531.0" y1="601.9" x2="532.5" y2="606.9" stroke="#d6dc8a" stroke-width="2"/><line x1="532.5" y1="606.9" x2="533.6" y2="610.7" stroke="#e2783e" stroke-width="2"/>
<circle cx="593.9" cy="611.9" r="3.1" fill="#d9925a" opacity="0.9"/>
<line x1="591.0" y1="601.9" x2="584.9" y2="593.5" stroke="#d6dc8a" stroke-width="2"/><line x1="584.9" y1="593.5" x2="580.3" y2="587.0" stroke="#e2783e" stroke-width="2"/>
<line x1="591.0" y1="601.9" x2="600.0" y2="596.6" stroke="#d6dc8a" stroke-width="2"/><line x1="600.0" y1="596.6" x2="606.8" y2="592.7" stroke="#e2783e" stroke-width="2"/>
<line x1="591.0" y1="601.9" x2="597.2" y2="610.2" stroke="#d6dc8a" stroke-width="2"/><line x1="597.2" y1="610.2" x2="602.0" y2="616.6" stroke="#e2783e" stroke-width="2"/>
<line x1="591.0" y1="601.9" x2="582.5" y2="607.2" stroke="#d6dc8a" stroke-width="2"/><line x1="582.5" y1="607.2" x2="576.0" y2="611.2" stroke="#e2783e" stroke-width="2"/>
<line x1="591.0" y1="601.9" x2="592.5" y2="606.9" stroke="#d6dc8a" stroke-width="2"/><line x1="592.5" y1="606.9" x2="593.6" y2="610.7" stroke="#e2783e" stroke-width="2"/>
<circle cx="443.1" cy="618.9" r="3.1" fill="#d9925a" opacity="0.9"/>
<line x1="441.4" y1="628.2" x2="432.4" y2="623.4" stroke="#d6dc8a" stroke-width="2"/><line x1="432.4" y1="623.4" x2="425.6" y2="619.8" stroke="#e2783e" stroke-width="2"/>
<line x1="441.4" y1="628.2" x2="447.5" y2="620.2" stroke="#d6dc8a" stroke-width="2"/><line x1="447.5" y1="620.2" x2="452.1" y2="614.1" stroke="#e2783e" stroke-width="2"/>
<line x1="441.4" y1="628.2" x2="450.1" y2="633.5" stroke="#d6dc8a" stroke-width="2"/><line x1="450.1" y1="633.5" x2="456.8" y2="637.4" stroke="#e2783e" stroke-width="2"/>
<line x1="441.4" y1="628.2" x2="434.9" y2="636.7" stroke="#d6dc8a" stroke-width="2"/><line x1="434.9" y1="636.7" x2="430.0" y2="643.2" stroke="#e2783e" stroke-width="2"/>
<line x1="441.4" y1="628.2" x2="442.2" y2="623.5" stroke="#d6dc8a" stroke-width="2"/><line x1="442.2" y1="623.5" x2="442.9" y2="620.0" stroke="#e2783e" stroke-width="2"/>
<circle cx="503.1" cy="618.9" r="3.1" fill="#d9925a" opacity="0.9"/>
<line x1="501.4" y1="628.2" x2="492.4" y2="623.4" stroke="#d6dc8a" stroke-width="2"/><line x1="492.4" y1="623.4" x2="485.6" y2="619.8" stroke="#e2783e" stroke-width="2"/>
<line x1="501.4" y1="628.2" x2="507.5" y2="620.2" stroke="#d6dc8a" stroke-width="2"/><line x1="507.5" y1="620.2" x2="512.1" y2="614.1" stroke="#e2783e" stroke-width="2"/>
<line x1="501.4" y1="628.2" x2="510.1" y2="633.5" stroke="#d6dc8a" stroke-width="2"/><line x1="510.1" y1="633.5" x2="516.8" y2="637.4" stroke="#e2783e" stroke-width="2"/>
<line x1="501.4" y1="628.2" x2="494.9" y2="636.7" stroke="#d6dc8a" stroke-width="2"/><line x1="494.9" y1="636.7" x2="490.0" y2="643.2" stroke="#e2783e" stroke-width="2"/>
<line x1="501.4" y1="628.2" x2="502.2" y2="623.5" stroke="#d6dc8a" stroke-width="2"/><line x1="502.2" y1="623.5" x2="502.9" y2="620.0" stroke="#e2783e" stroke-width="2"/>
<circle cx="563.1" cy="618.9" r="3.1" fill="#d9925a" opacity="0.9"/>
<line x1="561.4" y1="628.2" x2="552.5" y2="623.4" stroke="#d6dc8a" stroke-width="2"/><line x1="552.5" y1="623.4" x2="545.6" y2="619.8" stroke="#e2783e" stroke-width="2"/>
<line x1="561.4" y1="628.2" x2="567.5" y2="620.2" stroke="#d6dc8a" stroke-width="2"/><line x1="567.5" y1="620.2" x2="572.1" y2="614.1" stroke="#e2783e" stroke-width="2"/>
<line x1="561.4" y1="628.2" x2="570.1" y2="633.5" stroke="#d6dc8a" stroke-width="2"/><line x1="570.1" y1="633.5" x2="576.8" y2="637.4" stroke="#e2783e" stroke-width="2"/>
<line x1="561.4" y1="628.2" x2="555.0" y2="636.7" stroke="#d6dc8a" stroke-width="2"/><line x1="555.0" y1="636.7" x2="550.0" y2="643.2" stroke="#e2783e" stroke-width="2"/>
<line x1="561.4" y1="628.2" x2="562.2" y2="623.5" stroke="#d6dc8a" stroke-width="2"/><line x1="562.2" y1="623.5" x2="562.9" y2="620.0" stroke="#e2783e" stroke-width="2"/>
<circle cx="413.9" cy="665.6" r="3.1" fill="#d9925a" opacity="0.9"/>
<line x1="411.0" y1="655.6" x2="404.9" y2="647.2" stroke="#d6dc8a" stroke-width="2"/><line x1="404.9" y1="647.2" x2="400.3" y2="640.7" stroke="#e2783e" stroke-width="2"/>
<line x1="411.0" y1="655.6" x2="419.9" y2="650.4" stroke="#d6dc8a" stroke-width="2"/><line x1="419.9" y1="650.4" x2="426.8" y2="646.4" stroke="#e2783e" stroke-width="2"/>
<line x1="411.0" y1="655.6" x2="417.2" y2="664.0" stroke="#d6dc8a" stroke-width="2"/><line x1="417.2" y1="664.0" x2="422.0" y2="670.3" stroke="#e2783e" stroke-width="2"/>
<line x1="411.0" y1="655.6" x2="402.4" y2="660.9" stroke="#d6dc8a" stroke-width="2"/><line x1="402.4" y1="660.9" x2="396.0" y2="664.9" stroke="#e2783e" stroke-width="2"/>
<line x1="411.0" y1="655.6" x2="412.4" y2="660.6" stroke="#d6dc8a" stroke-width="2"/><line x1="412.4" y1="660.6" x2="413.6" y2="664.4" stroke="#e2783e" stroke-width="2"/>
<circle cx="473.9" cy="665.6" r="3.1" fill="#d9925a" opacity="0.9"/>
<line x1="471.0" y1="655.6" x2="464.9" y2="647.2" stroke="#d6dc8a" stroke-width="2"/><line x1="464.9" y1="647.2" x2="460.3" y2="640.7" stroke="#e2783e" stroke-width="2"/>
<line x1="471.0" y1="655.6" x2="479.9" y2="650.4" stroke="#d6dc8a" stroke-width="2"/><line x1="479.9" y1="650.4" x2="486.8" y2="646.4" stroke="#e2783e" stroke-width="2"/>
<line x1="471.0" y1="655.6" x2="477.2" y2="664.0" stroke="#d6dc8a" stroke-width="2"/><line x1="477.2" y1="664.0" x2="482.0" y2="670.3" stroke="#e2783e" stroke-width="2"/>
<line x1="471.0" y1="655.6" x2="462.4" y2="660.9" stroke="#d6dc8a" stroke-width="2"/><line x1="462.4" y1="660.9" x2="456.0" y2="664.9" stroke="#e2783e" stroke-width="2"/>
<line x1="471.0" y1="655.6" x2="472.4" y2="660.6" stroke="#d6dc8a" stroke-width="2"/><line x1="472.4" y1="660.6" x2="473.6" y2="664.4" stroke="#e2783e" stroke-width="2"/>
<circle cx="533.9" cy="665.6" r="3.1" fill="#d9925a" opacity="0.9"/>
<line x1="531.0" y1="655.6" x2="524.9" y2="647.2" stroke="#d6dc8a" stroke-width="2"/><line x1="524.9" y1="647.2" x2="520.3" y2="640.7" stroke="#e2783e" stroke-width="2"/>
<line x1="531.0" y1="655.6" x2="540.0" y2="650.4" stroke="#d6dc8a" stroke-width="2"/><line x1="540.0" y1="650.4" x2="546.8" y2="646.4" stroke="#e2783e" stroke-width="2"/>
<line x1="531.0" y1="655.6" x2="537.2" y2="664.0" stroke="#d6dc8a" stroke-width="2"/><line x1="537.2" y1="664.0" x2="542.0" y2="670.3" stroke="#e2783e" stroke-width="2"/>
<line x1="531.0" y1="655.6" x2="522.5" y2="660.9" stroke="#d6dc8a" stroke-width="2"/><line x1="522.5" y1="660.9" x2="516.0" y2="664.9" stroke="#e2783e" stroke-width="2"/>
<line x1="531.0" y1="655.6" x2="532.5" y2="660.6" stroke="#d6dc8a" stroke-width="2"/><line x1="532.5" y1="660.6" x2="533.6" y2="664.4" stroke="#e2783e" stroke-width="2"/>
<circle cx="593.9" cy="665.6" r="3.1" fill="#d9925a" opacity="0.9"/>
<line x1="591.0" y1="655.6" x2="584.9" y2="647.2" stroke="#d6dc8a" stroke-width="2"/><line x1="584.9" y1="647.2" x2="580.3" y2="640.7" stroke="#e2783e" stroke-width="2"/>
<line x1="591.0" y1="655.6" x2="600.0" y2="650.4" stroke="#d6dc8a" stroke-width="2"/><line x1="600.0" y1="650.4" x2="606.8" y2="646.4" stroke="#e2783e" stroke-width="2"/>
<line x1="591.0" y1="655.6" x2="597.2" y2="664.0" stroke="#d6dc8a" stroke-width="2"/><line x1="597.2" y1="664.0" x2="602.0" y2="670.3" stroke="#e2783e" stroke-width="2"/>
<line x1="591.0" y1="655.6" x2="582.5" y2="660.9" stroke="#d6dc8a" stroke-width="2"/><line x1="582.5" y1="660.9" x2="576.0" y2="664.9" stroke="#e2783e" stroke-width="2"/>
<line x1="591.0" y1="655.6" x2="592.5" y2="660.6" stroke="#d6dc8a" stroke-width="2"/><line x1="592.5" y1="660.6" x2="593.6" y2="664.4" stroke="#e2783e" stroke-width="2"/>
<circle cx="443.1" cy="672.6" r="3.1" fill="#d9925a" opacity="0.9"/>
<line x1="441.4" y1="681.9" x2="432.4" y2="677.1" stroke="#d6dc8a" stroke-width="2"/><line x1="432.4" y1="677.1" x2="425.6" y2="673.5" stroke="#e2783e" stroke-width="2"/>
<line x1="441.4" y1="681.9" x2="447.5" y2="673.9" stroke="#d6dc8a" stroke-width="2"/><line x1="447.5" y1="673.9" x2="452.1" y2="667.8" stroke="#e2783e" stroke-width="2"/>
<line x1="441.4" y1="681.9" x2="450.1" y2="687.2" stroke="#d6dc8a" stroke-width="2"/><line x1="450.1" y1="687.2" x2="456.8" y2="691.1" stroke="#e2783e" stroke-width="2"/>
<line x1="441.4" y1="681.9" x2="434.9" y2="690.4" stroke="#d6dc8a" stroke-width="2"/><line x1="434.9" y1="690.4" x2="430.0" y2="696.9" stroke="#e2783e" stroke-width="2"/>
<line x1="441.4" y1="681.9" x2="442.2" y2="677.2" stroke="#d6dc8a" stroke-width="2"/><line x1="442.2" y1="677.2" x2="442.9" y2="673.7" stroke="#e2783e" stroke-width="2"/>
<circle cx="503.1" cy="672.6" r="3.1" fill="#d9925a" opacity="0.9"/>
<line x1="501.4" y1="681.9" x2="492.4" y2="677.1" stroke="#d6dc8a" stroke-width="2"/><line x1="492.4" y1="677.1" x2="485.6" y2="673.5" stroke="#e2783e" stroke-width="2"/>
<line x1="501.4" y1="681.9" x2="507.5" y2="673.9" stroke="#d6dc8a" stroke-width="2"/><line x1="507.5" y1="673.9" x2="512.1" y2="667.8" stroke="#e2783e" stroke-width="2"/>
<line x1="501.4" y1="681.9" x2="510.1" y2="687.2" stroke="#d6dc8a" stroke-width="2"/><line x1="510.1" y1="687.2" x2="516.8" y2="691.1" stroke="#e2783e" stroke-width="2"/>
<line x1="501.4" y1="681.9" x2="494.9" y2="690.4" stroke="#d6dc8a" stroke-width="2"/><line x1="494.9" y1="690.4" x2="490.0" y2="696.9" stroke="#e2783e" stroke-width="2"/>
<line x1="501.4" y1="681.9" x2="502.2" y2="677.2" stroke="#d6dc8a" stroke-width="2"/><line x1="502.2" y1="677.2" x2="502.9" y2="673.7" stroke="#e2783e" stroke-width="2"/>
<circle cx="563.1" cy="672.6" r="3.1" fill="#d9925a" opacity="0.9"/>
<line x1="561.4" y1="681.9" x2="552.5" y2="677.1" stroke="#d6dc8a" stroke-width="2"/><line x1="552.5" y1="677.1" x2="545.6" y2="673.5" stroke="#e2783e" stroke-width="2"/>
<line x1="561.4" y1="681.9" x2="567.5" y2="673.9" stroke="#d6dc8a" stroke-width="2"/><line x1="567.5" y1="673.9" x2="572.1" y2="667.8" stroke="#e2783e" stroke-width="2"/>
<line x1="561.4" y1="681.9" x2="570.1" y2="687.2" stroke="#d6dc8a" stroke-width="2"/><line x1="570.1" y1="687.2" x2="576.8" y2="691.1" stroke="#e2783e" stroke-width="2"/>
<line x1="561.4" y1="681.9" x2="555.0" y2="690.4" stroke="#d6dc8a" stroke-width="2"/><line x1="555.0" y1="690.4" x2="550.0" y2="696.9" stroke="#e2783e" stroke-width="2"/>
<line x1="561.4" y1="681.9" x2="562.2" y2="677.2" stroke="#d6dc8a" stroke-width="2"/><line x1="562.2" y1="677.2" x2="562.9" y2="673.7" stroke="#e2783e" stroke-width="2"/>
<circle cx="413.9" cy="719.3" r="3.1" fill="#d9925a" opacity="0.9"/>
<line x1="411.0" y1="709.3" x2="404.9" y2="700.8" stroke="#d6dc8a" stroke-width="2"/><line x1="404.9" y1="700.8" x2="400.3" y2="694.4" stroke="#e2783e" stroke-width="2"/>
<line x1="411.0" y1="709.3" x2="419.9" y2="704.0" stroke="#d6dc8a" stroke-width="2"/><line x1="419.9" y1="704.0" x2="426.8" y2="700.1" stroke="#e2783e" stroke-width="2"/>
<line x1="411.0" y1="709.3" x2="417.2" y2="717.6" stroke="#d6dc8a" stroke-width="2"/><line x1="417.2" y1="717.6" x2="422.0" y2="724.0" stroke="#e2783e" stroke-width="2"/>
<line x1="411.0" y1="709.3" x2="402.4" y2="714.6" stroke="#d6dc8a" stroke-width="2"/><line x1="402.4" y1="714.6" x2="396.0" y2="718.6" stroke="#e2783e" stroke-width="2"/>
<line x1="411.0" y1="709.3" x2="412.4" y2="714.3" stroke="#d6dc8a" stroke-width="2"/><line x1="412.4" y1="714.3" x2="413.6" y2="718.1" stroke="#e2783e" stroke-width="2"/>
<circle cx="473.9" cy="719.3" r="3.1" fill="#d9925a" opacity="0.9"/>
<line x1="471.0" y1="709.3" x2="464.9" y2="700.8" stroke="#d6dc8a" stroke-width="2"/><line x1="464.9" y1="700.8" x2="460.3" y2="694.4" stroke="#e2783e" stroke-width="2"/>
<line x1="471.0" y1="709.3" x2="479.9" y2="704.0" stroke="#d6dc8a" stroke-width="2"/><line x1="479.9" y1="704.0" x2="486.8" y2="700.1" stroke="#e2783e" stroke-width="2"/>
<line x1="471.0" y1="709.3" x2="477.2" y2="717.6" stroke="#d6dc8a" stroke-width="2"/><line x1="477.2" y1="717.6" x2="482.0" y2="724.0" stroke="#e2783e" stroke-width="2"/>
<line x1="471.0" y1="709.3" x2="462.4" y2="714.6" stroke="#d6dc8a" stroke-width="2"/><line x1="462.4" y1="714.6" x2="456.0" y2="718.6" stroke="#e2783e" stroke-width="2"/>
<line x1="471.0" y1="709.3" x2="472.4" y2="714.3" stroke="#d6dc8a" stroke-width="2"/><line x1="472.4" y1="714.3" x2="473.6" y2="718.1" stroke="#e2783e" stroke-width="2"/>
<circle cx="533.9" cy="719.3" r="3.1" fill="#d9925a" opacity="0.9"/>
<line x1="531.0" y1="709.3" x2="524.9" y2="700.8" stroke="#d6dc8a" stroke-width="2"/><line x1="524.9" y1="700.8" x2="520.3" y2="694.4" stroke="#e2783e" stroke-width="2"/>
<line x1="531.0" y1="709.3" x2="540.0" y2="704.0" stroke="#d6dc8a" stroke-width="2"/><line x1="540.0" y1="704.0" x2="546.8" y2="700.1" stroke="#e2783e" stroke-width="2"/>
<line x1="531.0" y1="709.3" x2="537.2" y2="717.6" stroke="#d6dc8a" stroke-width="2"/><line x1="537.2" y1="717.6" x2="542.0" y2="724.0" stroke="#e2783e" stroke-width="2"/>
<line x1="531.0" y1="709.3" x2="522.5" y2="714.6" stroke="#d6dc8a" stroke-width="2"/><line x1="522.5" y1="714.6" x2="516.0" y2="718.6" stroke="#e2783e" stroke-width="2"/>
<line x1="531.0" y1="709.3" x2="532.5" y2="714.3" stroke="#d6dc8a" stroke-width="2"/><line x1="532.5" y1="714.3" x2="533.6" y2="718.1" stroke="#e2783e" stroke-width="2"/>
<circle cx="593.9" cy="719.3" r="3.1" fill="#d9925a" opacity="0.9"/>
<line x1="591.0" y1="709.3" x2="584.9" y2="700.8" stroke="#d6dc8a" stroke-width="2"/><line x1="584.9" y1="700.8" x2="580.3" y2="694.4" stroke="#e2783e" stroke-width="2"/>
<line x1="591.0" y1="709.3" x2="600.0" y2="704.0" stroke="#d6dc8a" stroke-width="2"/><line x1="600.0" y1="704.0" x2="606.8" y2="700.1" stroke="#e2783e" stroke-width="2"/>
<line x1="591.0" y1="709.3" x2="597.2" y2="717.6" stroke="#d6dc8a" stroke-width="2"/><line x1="597.2" y1="717.6" x2="602.0" y2="724.0" stroke="#e2783e" stroke-width="2"/>
<line x1="591.0" y1="709.3" x2="582.5" y2="714.6" stroke="#d6dc8a" stroke-width="2"/><line x1="582.5" y1="714.6" x2="576.0" y2="718.6" stroke="#e2783e" stroke-width="2"/>
<line x1="591.0" y1="709.3" x2="592.5" y2="714.3" stroke="#d6dc8a" stroke-width="2"/><line x1="592.5" y1="714.3" x2="593.6" y2="718.1" stroke="#e2783e" stroke-width="2"/>
<circle cx="443.1" cy="726.3" r="3.1" fill="#d9925a" opacity="0.9"/>
<line x1="441.4" y1="735.6" x2="432.4" y2="730.8" stroke="#d6dc8a" stroke-width="2"/><line x1="432.4" y1="730.8" x2="425.6" y2="727.2" stroke="#e2783e" stroke-width="2"/>
<line x1="441.4" y1="735.6" x2="447.5" y2="727.6" stroke="#d6dc8a" stroke-width="2"/><line x1="447.5" y1="727.6" x2="452.1" y2="721.5" stroke="#e2783e" stroke-width="2"/>
<line x1="441.4" y1="735.6" x2="450.1" y2="740.9" stroke="#d6dc8a" stroke-width="2"/><line x1="450.1" y1="740.9" x2="456.8" y2="744.8" stroke="#e2783e" stroke-width="2"/>
<line x1="441.4" y1="735.6" x2="434.9" y2="744.1" stroke="#d6dc8a" stroke-width="2"/><line x1="434.9" y1="744.1" x2="430.0" y2="750.6" stroke="#e2783e" stroke-width="2"/>
<line x1="441.4" y1="735.6" x2="442.2" y2="731.0" stroke="#d6dc8a" stroke-width="2"/><line x1="442.2" y1="731.0" x2="442.9" y2="727.4" stroke="#e2783e" stroke-width="2"/>
<circle cx="503.1" cy="726.3" r="3.1" fill="#d9925a" opacity="0.9"/>
<line x1="501.4" y1="735.6" x2="492.4" y2="730.8" stroke="#d6dc8a" stroke-width="2"/><line x1="492.4" y1="730.8" x2="485.6" y2="727.2" stroke="#e2783e" stroke-width="2"/>
<line x1="501.4" y1="735.6" x2="507.5" y2="727.6" stroke="#d6dc8a" stroke-width="2"/><line x1="507.5" y1="727.6" x2="512.1" y2="721.5" stroke="#e2783e" stroke-width="2"/>
<line x1="501.4" y1="735.6" x2="510.1" y2="740.9" stroke="#d6dc8a" stroke-width="2"/><line x1="510.1" y1="740.9" x2="516.8" y2="744.8" stroke="#e2783e" stroke-width="2"/>
<line x1="501.4" y1="735.6" x2="494.9" y2="744.1" stroke="#d6dc8a" stroke-width="2"/><line x1="494.9" y1="744.1" x2="490.0" y2="750.6" stroke="#e2783e" stroke-width="2"/>
<line x1="501.4" y1="735.6" x2="502.2" y2="731.0" stroke="#d6dc8a" stroke-width="2"/><line x1="502.2" y1="731.0" x2="502.9" y2="727.4" stroke="#e2783e" stroke-width="2"/>
<circle cx="563.1" cy="726.3" r="3.1" fill="#d9925a" opacity="0.9"/>
<line x1="561.4" y1="735.6" x2="552.5" y2="730.8" stroke="#d6dc8a" stroke-width="2"/><line x1="552.5" y1="730.8" x2="545.6" y2="727.2" stroke="#e2783e" stroke-width="2"/>
<line x1="561.4" y1="735.6" x2="567.5" y2="727.6" stroke="#d6dc8a" stroke-width="2"/><line x1="567.5" y1="727.6" x2="572.1" y2="721.5" stroke="#e2783e" stroke-width="2"/>
<line x1="561.4" y1="735.6" x2="570.1" y2="740.9" stroke="#d6dc8a" stroke-width="2"/><line x1="570.1" y1="740.9" x2="576.8" y2="744.8" stroke="#e2783e" stroke-width="2"/>
<line x1="561.4" y1="735.6" x2="555.0" y2="744.1" stroke="#d6dc8a" stroke-width="2"/><line x1="555.0" y1="744.1" x2="550.0" y2="750.6" stroke="#e2783e" stroke-width="2"/>
<line x1="561.4" y1="735.6" x2="562.2" y2="731.0" stroke="#d6dc8a" stroke-width="2"/><line x1="562.2" y1="731.0" x2="562.9" y2="727.4" stroke="#e2783e" stroke-width="2"/>
<circle cx="413.9" cy="773.0" r="3.1" fill="#d9925a" opacity="0.9"/>
<line x1="411.0" y1="763.0" x2="404.9" y2="754.5" stroke="#d6dc8a" stroke-width="2"/><line x1="404.9" y1="754.5" x2="400.3" y2="748.1" stroke="#e2783e" stroke-width="2"/>
<line x1="411.0" y1="763.0" x2="419.9" y2="757.8" stroke="#d6dc8a" stroke-width="2"/><line x1="419.9" y1="757.8" x2="426.8" y2="753.8" stroke="#e2783e" stroke-width="2"/>
<line x1="411.0" y1="763.0" x2="417.2" y2="771.4" stroke="#d6dc8a" stroke-width="2"/><line x1="417.2" y1="771.4" x2="422.0" y2="777.7" stroke="#e2783e" stroke-width="2"/>
<line x1="411.0" y1="763.0" x2="402.4" y2="768.3" stroke="#d6dc8a" stroke-width="2"/><line x1="402.4" y1="768.3" x2="396.0" y2="772.3" stroke="#e2783e" stroke-width="2"/>
<line x1="411.0" y1="763.0" x2="412.4" y2="768.0" stroke="#d6dc8a" stroke-width="2"/><line x1="412.4" y1="768.0" x2="413.6" y2="771.8" stroke="#e2783e" stroke-width="2"/>
<circle cx="473.9" cy="773.0" r="3.1" fill="#d9925a" opacity="0.9"/>
<line x1="471.0" y1="763.0" x2="464.9" y2="754.5" stroke="#d6dc8a" stroke-width="2"/><line x1="464.9" y1="754.5" x2="460.3" y2="748.1" stroke="#e2783e" stroke-width="2"/>
<line x1="471.0" y1="763.0" x2="479.9" y2="757.8" stroke="#d6dc8a" stroke-width="2"/><line x1="479.9" y1="757.8" x2="486.8" y2="753.8" stroke="#e2783e" stroke-width="2"/>
<line x1="471.0" y1="763.0" x2="477.2" y2="771.4" stroke="#d6dc8a" stroke-width="2"/><line x1="477.2" y1="771.4" x2="482.0" y2="777.7" stroke="#e2783e" stroke-width="2"/>
<line x1="471.0" y1="763.0" x2="462.4" y2="768.3" stroke="#d6dc8a" stroke-width="2"/><line x1="462.4" y1="768.3" x2="456.0" y2="772.3" stroke="#e2783e" stroke-width="2"/>
<line x1="471.0" y1="763.0" x2="472.4" y2="768.0" stroke="#d6dc8a" stroke-width="2"/><line x1="472.4" y1="768.0" x2="473.6" y2="771.8" stroke="#e2783e" stroke-width="2"/>
<circle cx="533.9" cy="773.0" r="3.1" fill="#d9925a" opacity="0.9"/>
<line x1="531.0" y1="763.0" x2="524.9" y2="754.5" stroke="#d6dc8a" stroke-width="2"/><line x1="524.9" y1="754.5" x2="520.3" y2="748.1" stroke="#e2783e" stroke-width="2"/>
<line x1="531.0" y1="763.0" x2="540.0" y2="757.8" stroke="#d6dc8a" stroke-width="2"/><line x1="540.0" y1="757.8" x2="546.8" y2="753.8" stroke="#e2783e" stroke-width="2"/>
<line x1="531.0" y1="763.0" x2="537.2" y2="771.4" stroke="#d6dc8a" stroke-width="2"/><line x1="537.2" y1="771.4" x2="542.0" y2="777.7" stroke="#e2783e" stroke-width="2"/>
<line x1="531.0" y1="763.0" x2="522.5" y2="768.3" stroke="#d6dc8a" stroke-width="2"/><line x1="522.5" y1="768.3" x2="516.0" y2="772.3" stroke="#e2783e" stroke-width="2"/>
<line x1="531.0" y1="763.0" x2="532.5" y2="768.0" stroke="#d6dc8a" stroke-width="2"/><line x1="532.5" y1="768.0" x2="533.6" y2="771.8" stroke="#e2783e" stroke-width="2"/>
<circle cx="593.9" cy="773.0" r="3.1" fill="#d9925a" opacity="0.9"/>
<line x1="591.0" y1="763.0" x2="584.9" y2="754.5" stroke="#d6dc8a" stroke-width="2"/><line x1="584.9" y1="754.5" x2="580.3" y2="748.1" stroke="#e2783e" stroke-width="2"/>
<line x1="591.0" y1="763.0" x2="600.0" y2="757.8" stroke="#d6dc8a" stroke-width="2"/><line x1="600.0" y1="757.8" x2="606.8" y2="753.8" stroke="#e2783e" stroke-width="2"/>
<line x1="591.0" y1="763.0" x2="597.2" y2="771.4" stroke="#d6dc8a" stroke-width="2"/><line x1="597.2" y1="771.4" x2="602.0" y2="777.7" stroke="#e2783e" stroke-width="2"/>
<line x1="591.0" y1="763.0" x2="582.5" y2="768.3" stroke="#d6dc8a" stroke-width="2"/><line x1="582.5" y1="768.3" x2="576.0" y2="772.3" stroke="#e2783e" stroke-width="2"/>
<line x1="591.0" y1="763.0" x2="592.5" y2="768.0" stroke="#d6dc8a" stroke-width="2"/><line x1="592.5" y1="768.0" x2="593.6" y2="771.8" stroke="#e2783e" stroke-width="2"/>
<circle cx="411.0" cy="601.9" r="5.5" fill="url(#irg)"/>
<circle cx="471.0" cy="601.9" r="5.5" fill="url(#irg)"/>
<circle cx="531.0" cy="601.9" r="5.5" fill="url(#irg)"/>
<circle cx="591.0" cy="601.9" r="5.5" fill="url(#irg)"/>
<circle cx="441.4" cy="628.2" r="5.5" fill="url(#irg)"/>
<circle cx="501.4" cy="628.2" r="5.5" fill="url(#irg)"/>
<circle cx="561.4" cy="628.2" r="5.5" fill="url(#irg)"/>
<circle cx="411.0" cy="655.6" r="5.5" fill="url(#irg)"/>
<circle cx="471.0" cy="655.6" r="5.5" fill="url(#irg)"/>
<circle cx="531.0" cy="655.6" r="5.5" fill="url(#irg)"/>
<circle cx="591.0" cy="655.6" r="5.5" fill="url(#irg)"/>
<circle cx="441.4" cy="681.9" r="5.5" fill="url(#irg)"/>
<circle cx="501.4" cy="681.9" r="5.5" fill="url(#irg)"/>
<circle cx="561.4" cy="681.9" r="5.5" fill="url(#irg)"/>
<circle cx="411.0" cy="709.3" r="5.5" fill="url(#irg)"/>
<circle cx="471.0" cy="709.3" r="5.5" fill="url(#irg)"/>
<circle cx="531.0" cy="709.3" r="5.5" fill="url(#irg)"/>
<circle cx="591.0" cy="709.3" r="5.5" fill="url(#irg)"/>
<circle cx="441.4" cy="735.6" r="5.5" fill="url(#irg)"/>
<circle cx="501.4" cy="735.6" r="5.5" fill="url(#irg)"/>
<circle cx="561.4" cy="735.6" r="5.5" fill="url(#irg)"/>
<circle cx="411.0" cy="763.0" r="5.5" fill="url(#irg)"/>
<circle cx="471.0" cy="763.0" r="5.5" fill="url(#irg)"/>
<circle cx="531.0" cy="763.0" r="5.5" fill="url(#irg)"/>
<circle cx="591.0" cy="763.0" r="5.5" fill="url(#irg)"/>
<circle cx="398.8" cy="585.0" r="3.1" fill="url(#og)"/>
<circle cx="408.7" cy="591.8" r="3.1" fill="url(#og)"/>
<circle cx="428.9" cy="591.4" r="3.1" fill="url(#og)"/>
<circle cx="423.5" cy="618.6" r="3.1" fill="url(#og)"/>
<circle cx="393.9" cy="612.5" r="3.1" fill="url(#og)"/>
<circle cx="458.8" cy="585.0" r="3.1" fill="url(#og)"/>
<circle cx="468.7" cy="591.8" r="3.1" fill="url(#og)"/>
<circle cx="488.9" cy="591.4" r="3.1" fill="url(#og)"/>
<circle cx="483.5" cy="618.6" r="3.1" fill="url(#og)"/>
<circle cx="453.9" cy="612.5" r="3.1" fill="url(#og)"/>
<circle cx="518.8" cy="585.0" r="3.1" fill="url(#og)"/>
<circle cx="528.7" cy="591.8" r="3.1" fill="url(#og)"/>
<circle cx="548.9" cy="591.4" r="3.1" fill="url(#og)"/>
<circle cx="543.5" cy="618.6" r="3.1" fill="url(#og)"/>
<circle cx="513.9" cy="612.5" r="3.1" fill="url(#og)"/>
<circle cx="578.8" cy="585.0" r="3.1" fill="url(#og)"/>
<circle cx="588.7" cy="591.8" r="3.1" fill="url(#og)"/>
<circle cx="608.9" cy="591.4" r="3.1" fill="url(#og)"/>
<circle cx="603.5" cy="618.6" r="3.1" fill="url(#og)"/>
<circle cx="573.9" cy="612.5" r="3.1" fill="url(#og)"/>
<circle cx="423.5" cy="618.6" r="3.1" fill="url(#og)"/>
<circle cx="453.6" cy="612.2" r="3.1" fill="url(#og)"/>
<circle cx="458.9" cy="638.7" r="3.1" fill="url(#og)"/>
<circle cx="428.5" cy="645.2" r="3.1" fill="url(#og)"/>
<circle cx="438.8" cy="639.3" r="3.1" fill="url(#og)"/>
<circle cx="483.5" cy="618.6" r="3.1" fill="url(#og)"/>
<circle cx="513.6" cy="612.2" r="3.1" fill="url(#og)"/>
<circle cx="518.9" cy="638.7" r="3.1" fill="url(#og)"/>
<circle cx="488.5" cy="645.2" r="3.1" fill="url(#og)"/>
<circle cx="498.8" cy="639.3" r="3.1" fill="url(#og)"/>
<circle cx="543.5" cy="618.6" r="3.1" fill="url(#og)"/>
<circle cx="573.6" cy="612.2" r="3.1" fill="url(#og)"/>
<circle cx="578.9" cy="638.7" r="3.1" fill="url(#og)"/>
<circle cx="548.5" cy="645.2" r="3.1" fill="url(#og)"/>
<circle cx="558.8" cy="639.3" r="3.1" fill="url(#og)"/>
<circle cx="398.8" cy="638.7" r="3.1" fill="url(#og)"/>
<circle cx="408.7" cy="645.5" r="3.1" fill="url(#og)"/>
<circle cx="428.9" cy="645.1" r="3.1" fill="url(#og)"/>
<circle cx="423.5" cy="672.3" r="3.1" fill="url(#og)"/>
<circle cx="393.9" cy="666.2" r="3.1" fill="url(#og)"/>
<circle cx="458.8" cy="638.7" r="3.1" fill="url(#og)"/>
<circle cx="468.7" cy="645.5" r="3.1" fill="url(#og)"/>
<circle cx="488.9" cy="645.1" r="3.1" fill="url(#og)"/>
<circle cx="483.5" cy="672.3" r="3.1" fill="url(#og)"/>
<circle cx="453.9" cy="666.2" r="3.1" fill="url(#og)"/>
<circle cx="518.8" cy="638.7" r="3.1" fill="url(#og)"/>
<circle cx="528.7" cy="645.5" r="3.1" fill="url(#og)"/>
<circle cx="548.9" cy="645.1" r="3.1" fill="url(#og)"/>
<circle cx="543.5" cy="672.3" r="3.1" fill="url(#og)"/>
<circle cx="513.9" cy="666.2" r="3.1" fill="url(#og)"/>
<circle cx="578.8" cy="638.7" r="3.1" fill="url(#og)"/>
<circle cx="588.7" cy="645.5" r="3.1" fill="url(#og)"/>
<circle cx="608.9" cy="645.1" r="3.1" fill="url(#og)"/>
<circle cx="603.5" cy="672.3" r="3.1" fill="url(#og)"/>
<circle cx="573.9" cy="666.2" r="3.1" fill="url(#og)"/>
<circle cx="423.5" cy="672.3" r="3.1" fill="url(#og)"/>
<circle cx="453.6" cy="665.9" r="3.1" fill="url(#og)"/>
<circle cx="458.9" cy="692.4" r="3.1" fill="url(#og)"/>
<circle cx="428.5" cy="698.9" r="3.1" fill="url(#og)"/>
<circle cx="438.8" cy="693.0" r="3.1" fill="url(#og)"/>
<circle cx="483.5" cy="672.3" r="3.1" fill="url(#og)"/>
<circle cx="513.6" cy="665.9" r="3.1" fill="url(#og)"/>
<circle cx="518.9" cy="692.4" r="3.1" fill="url(#og)"/>
<circle cx="488.5" cy="698.9" r="3.1" fill="url(#og)"/>
<circle cx="498.8" cy="693.0" r="3.1" fill="url(#og)"/>
<circle cx="543.5" cy="672.3" r="3.1" fill="url(#og)"/>
<circle cx="573.6" cy="665.9" r="3.1" fill="url(#og)"/>
<circle cx="578.9" cy="692.4" r="3.1" fill="url(#og)"/>
<circle cx="548.5" cy="698.9" r="3.1" fill="url(#og)"/>
<circle cx="558.8" cy="693.0" r="3.1" fill="url(#og)"/>
<circle cx="398.8" cy="692.4" r="3.1" fill="url(#og)"/>
<circle cx="408.7" cy="699.2" r="3.1" fill="url(#og)"/>
<circle cx="428.9" cy="698.8" r="3.1" fill="url(#og)"/>
<circle cx="423.5" cy="726.0" r="3.1" fill="url(#og)"/>
<circle cx="393.9" cy="719.9" r="3.1" fill="url(#og)"/>
<circle cx="458.8" cy="692.4" r="3.1" fill="url(#og)"/>
<circle cx="468.7" cy="699.2" r="3.1" fill="url(#og)"/>
<circle cx="488.9" cy="698.8" r="3.1" fill="url(#og)"/>
<circle cx="483.5" cy="726.0" r="3.1" fill="url(#og)"/>
<circle cx="453.9" cy="719.9" r="3.1" fill="url(#og)"/>
<circle cx="518.8" cy="692.4" r="3.1" fill="url(#og)"/>
<circle cx="528.7" cy="699.2" r="3.1" fill="url(#og)"/>
<circle cx="548.9" cy="698.8" r="3.1" fill="url(#og)"/>
<circle cx="543.5" cy="726.0" r="3.1" fill="url(#og)"/>
<circle cx="513.9" cy="719.9" r="3.1" fill="url(#og)"/>
<circle cx="578.8" cy="692.4" r="3.1" fill="url(#og)"/>
<circle cx="588.7" cy="699.2" r="3.1" fill="url(#og)"/>
<circle cx="608.9" cy="698.8" r="3.1" fill="url(#og)"/>
<circle cx="603.5" cy="726.0" r="3.1" fill="url(#og)"/>
<circle cx="573.9" cy="719.9" r="3.1" fill="url(#og)"/>
<circle cx="423.5" cy="726.0" r="3.1" fill="url(#og)"/>
<circle cx="453.6" cy="719.6" r="3.1" fill="url(#og)"/>
<circle cx="458.9" cy="746.1" r="3.1" fill="url(#og)"/>
<circle cx="428.5" cy="752.6" r="3.1" fill="url(#og)"/>
<circle cx="438.8" cy="746.7" r="3.1" fill="url(#og)"/>
<circle cx="483.5" cy="726.0" r="3.1" fill="url(#og)"/>
<circle cx="513.6" cy="719.6" r="3.1" fill="url(#og)"/>
<circle cx="518.9" cy="746.1" r="3.1" fill="url(#og)"/>
<circle cx="488.5" cy="752.6" r="3.1" fill="url(#og)"/>
<circle cx="498.8" cy="746.7" r="3.1" fill="url(#og)"/>
<circle cx="543.5" cy="726.0" r="3.1" fill="url(#og)"/>
<circle cx="573.6" cy="719.6" r="3.1" fill="url(#og)"/>
<circle cx="578.9" cy="746.1" r="3.1" fill="url(#og)"/>
<circle cx="548.5" cy="752.6" r="3.1" fill="url(#og)"/>
<circle cx="558.8" cy="746.7" r="3.1" fill="url(#og)"/>
<circle cx="398.8" cy="746.1" r="3.1" fill="url(#og)"/>
<circle cx="408.7" cy="752.9" r="3.1" fill="url(#og)"/>
<circle cx="428.9" cy="752.5" r="3.1" fill="url(#og)"/>
<circle cx="423.5" cy="779.7" r="3.1" fill="url(#og)"/>
<circle cx="393.9" cy="773.6" r="3.1" fill="url(#og)"/>
<circle cx="458.8" cy="746.1" r="3.1" fill="url(#og)"/>
<circle cx="468.7" cy="752.9" r="3.1" fill="url(#og)"/>
<circle cx="488.9" cy="752.5" r="3.1" fill="url(#og)"/>
<circle cx="483.5" cy="779.7" r="3.1" fill="url(#og)"/>
<circle cx="453.9" cy="773.6" r="3.1" fill="url(#og)"/>
<circle cx="518.8" cy="746.1" r="3.1" fill="url(#og)"/>
<circle cx="528.7" cy="752.9" r="3.1" fill="url(#og)"/>
<circle cx="548.9" cy="752.5" r="3.1" fill="url(#og)"/>
<circle cx="543.5" cy="779.7" r="3.1" fill="url(#og)"/>
<circle cx="513.9" cy="773.6" r="3.1" fill="url(#og)"/>
<circle cx="578.8" cy="746.1" r="3.1" fill="url(#og)"/>
<circle cx="588.7" cy="752.9" r="3.1" fill="url(#og)"/>
<circle cx="608.9" cy="752.5" r="3.1" fill="url(#og)"/>
<circle cx="603.5" cy="779.7" r="3.1" fill="url(#og)"/>
<circle cx="573.9" cy="773.6" r="3.1" fill="url(#og)"/>
<polygon points="633.8,592.4 662.7,592.4 673.8,613.5 644.7,619.8" fill="#c6cc88" />
<polygon points="633.8,592.4 653.7,603.9 644.7,619.8" fill="#d6dc96" />
<polygon points="662.7,592.4 673.8,613.5 653.7,603.9" fill="#d6dc96" />
<polygon points="653.7,603.9 673.8,613.5 644.7,619.8" fill="#bec480" />
<polygon points="644.7,619.8 673.8,619.8 662.7,647.2 633.8,640.6" fill="#c6cc88" />
<polygon points="644.7,619.8 653.7,631.3 633.8,640.6" fill="#d6dc96" />
<polygon points="673.8,619.8 662.7,647.2 653.7,631.3" fill="#d6dc96" />
<polygon points="653.7,631.3 662.7,647.2 633.8,640.6" fill="#bec480" />
<polygon points="633.8,647.2 662.7,647.2 673.8,668.3 644.7,674.6" fill="#c6cc88" />
<polygon points="633.8,647.2 653.7,658.7 644.7,674.6" fill="#d6dc96" />
<polygon points="662.7,647.2 673.8,668.3 653.7,658.7" fill="#d6dc96" />
<polygon points="653.7,658.7 673.8,668.3 644.7,674.6" fill="#bec480" />
<polygon points="644.7,674.6 673.8,674.6 662.7,702.0 633.8,695.4" fill="#c6cc88" />
<polygon points="644.7,674.6 653.7,686.1 633.8,695.4" fill="#d6dc96" />
<polygon points="673.8,674.6 662.7,702.0 653.7,686.1" fill="#d6dc96" />
<polygon points="653.7,686.1 662.7,702.0 633.8,695.4" fill="#bec480" />
<polygon points="633.8,702.0 662.7,702.0 673.8,723.1 644.7,729.4" fill="#c6cc88" />
<polygon points="633.8,702.0 653.7,713.5 644.7,729.4" fill="#d6dc96" />
<polygon points="662.7,702.0 673.8,723.1 653.7,713.5" fill="#d6dc96" />
<polygon points="653.7,713.5 673.8,723.1 644.7,729.4" fill="#bec480" />
<polygon points="644.7,729.4 673.8,729.4 662.7,756.8 633.8,750.2" fill="#c6cc88" />
<polygon points="644.7,729.4 653.7,740.9 633.8,750.2" fill="#d6dc96" />
<polygon points="673.8,729.4 662.7,756.8 653.7,740.9" fill="#d6dc96" />
<polygon points="653.7,740.9 662.7,756.8 633.8,750.2" fill="#bec480" />
<polygon points="633.8,756.8 662.7,756.8 673.8,777.9 644.7,784.2" fill="#c6cc88" />
<polygon points="633.8,756.8 653.7,768.3 644.7,784.2" fill="#d6dc96" />
<polygon points="662.7,756.8 673.8,777.9 653.7,768.3" fill="#d6dc96" />
<polygon points="653.7,768.3 673.8,777.9 644.7,784.2" fill="#bec480" />
<line x1="653.7" y1="603.9" x2="643.8" y2="598.1" stroke="#d6dc8a" stroke-width="2"/><line x1="643.8" y1="598.1" x2="636.2" y2="593.8" stroke="#e2783e" stroke-width="2"/>
<line x1="653.7" y1="603.9" x2="658.2" y2="598.1" stroke="#d6dc8a" stroke-width="2"/><line x1="658.2" y1="598.1" x2="661.6" y2="593.8" stroke="#e2783e" stroke-width="2"/>
<line x1="653.7" y1="603.9" x2="663.8" y2="608.7" stroke="#d6dc8a" stroke-width="2"/><line x1="663.8" y1="608.7" x2="671.4" y2="612.3" stroke="#e2783e" stroke-width="2"/>
<line x1="653.7" y1="603.9" x2="649.2" y2="611.8" stroke="#d6dc8a" stroke-width="2"/><line x1="649.2" y1="611.8" x2="645.8" y2="617.9" stroke="#e2783e" stroke-width="2"/>
<line x1="653.7" y1="631.3" x2="649.2" y2="625.5" stroke="#d6dc8a" stroke-width="2"/><line x1="649.2" y1="625.5" x2="645.8" y2="621.2" stroke="#e2783e" stroke-width="2"/>
<line x1="653.7" y1="631.3" x2="663.8" y2="625.5" stroke="#d6dc8a" stroke-width="2"/><line x1="663.8" y1="625.5" x2="671.4" y2="621.2" stroke="#e2783e" stroke-width="2"/>
<line x1="653.7" y1="631.3" x2="658.2" y2="639.2" stroke="#d6dc8a" stroke-width="2"/><line x1="658.2" y1="639.2" x2="661.6" y2="645.3" stroke="#e2783e" stroke-width="2"/>
<line x1="653.7" y1="631.3" x2="643.8" y2="635.9" stroke="#d6dc8a" stroke-width="2"/><line x1="643.8" y1="635.9" x2="636.2" y2="639.5" stroke="#e2783e" stroke-width="2"/>
<line x1="653.7" y1="658.7" x2="643.8" y2="652.9" stroke="#d6dc8a" stroke-width="2"/><line x1="643.8" y1="652.9" x2="636.2" y2="648.6" stroke="#e2783e" stroke-width="2"/>
<line x1="653.7" y1="658.7" x2="658.2" y2="652.9" stroke="#d6dc8a" stroke-width="2"/><line x1="658.2" y1="652.9" x2="661.6" y2="648.6" stroke="#e2783e" stroke-width="2"/>
<line x1="653.7" y1="658.7" x2="663.8" y2="663.5" stroke="#d6dc8a" stroke-width="2"/><line x1="663.8" y1="663.5" x2="671.4" y2="667.1" stroke="#e2783e" stroke-width="2"/>
<line x1="653.7" y1="658.7" x2="649.2" y2="666.6" stroke="#d6dc8a" stroke-width="2"/><line x1="649.2" y1="666.6" x2="645.8" y2="672.7" stroke="#e2783e" stroke-width="2"/>
<line x1="653.7" y1="686.1" x2="649.2" y2="680.3" stroke="#d6dc8a" stroke-width="2"/><line x1="649.2" y1="680.3" x2="645.8" y2="676.0" stroke="#e2783e" stroke-width="2"/>
<line x1="653.7" y1="686.1" x2="663.8" y2="680.3" stroke="#d6dc8a" stroke-width="2"/><line x1="663.8" y1="680.3" x2="671.4" y2="676.0" stroke="#e2783e" stroke-width="2"/>
<line x1="653.7" y1="686.1" x2="658.2" y2="694.0" stroke="#d6dc8a" stroke-width="2"/><line x1="658.2" y1="694.0" x2="661.6" y2="700.1" stroke="#e2783e" stroke-width="2"/>
<line x1="653.7" y1="686.1" x2="643.8" y2="690.7" stroke="#d6dc8a" stroke-width="2"/><line x1="643.8" y1="690.7" x2="636.2" y2="694.3" stroke="#e2783e" stroke-width="2"/>
<line x1="653.7" y1="713.5" x2="643.8" y2="707.8" stroke="#d6dc8a" stroke-width="2"/><line x1="643.8" y1="707.8" x2="636.2" y2="703.4" stroke="#e2783e" stroke-width="2"/>
<line x1="653.7" y1="713.5" x2="658.2" y2="707.8" stroke="#d6dc8a" stroke-width="2"/><line x1="658.2" y1="707.8" x2="661.6" y2="703.4" stroke="#e2783e" stroke-width="2"/>
<line x1="653.7" y1="713.5" x2="663.8" y2="718.3" stroke="#d6dc8a" stroke-width="2"/><line x1="663.8" y1="718.3" x2="671.4" y2="721.9" stroke="#e2783e" stroke-width="2"/>
<line x1="653.7" y1="713.5" x2="649.2" y2="721.5" stroke="#d6dc8a" stroke-width="2"/><line x1="649.2" y1="721.5" x2="645.8" y2="727.5" stroke="#e2783e" stroke-width="2"/>
<line x1="653.7" y1="740.9" x2="649.2" y2="735.1" stroke="#d6dc8a" stroke-width="2"/><line x1="649.2" y1="735.1" x2="645.8" y2="730.8" stroke="#e2783e" stroke-width="2"/>
<line x1="653.7" y1="740.9" x2="663.8" y2="735.1" stroke="#d6dc8a" stroke-width="2"/><line x1="663.8" y1="735.1" x2="671.4" y2="730.8" stroke="#e2783e" stroke-width="2"/>
<line x1="653.7" y1="740.9" x2="658.2" y2="748.8" stroke="#d6dc8a" stroke-width="2"/><line x1="658.2" y1="748.8" x2="661.6" y2="754.9" stroke="#e2783e" stroke-width="2"/>
<line x1="653.7" y1="740.9" x2="643.8" y2="745.5" stroke="#d6dc8a" stroke-width="2"/><line x1="643.8" y1="745.5" x2="636.2" y2="749.1" stroke="#e2783e" stroke-width="2"/>
<line x1="653.7" y1="768.3" x2="643.8" y2="762.5" stroke="#d6dc8a" stroke-width="2"/><line x1="643.8" y1="762.5" x2="636.2" y2="758.2" stroke="#e2783e" stroke-width="2"/>
<line x1="653.7" y1="768.3" x2="658.2" y2="762.5" stroke="#d6dc8a" stroke-width="2"/><line x1="658.2" y1="762.5" x2="661.6" y2="758.2" stroke="#e2783e" stroke-width="2"/>
<line x1="653.7" y1="768.3" x2="663.8" y2="773.1" stroke="#d6dc8a" stroke-width="2"/><line x1="663.8" y1="773.1" x2="671.4" y2="776.7" stroke="#e2783e" stroke-width="2"/>
<line x1="653.7" y1="768.3" x2="649.2" y2="776.2" stroke="#d6dc8a" stroke-width="2"/><line x1="649.2" y1="776.2" x2="645.8" y2="782.3" stroke="#e2783e" stroke-width="2"/>
<circle cx="653.7" cy="603.9" r="5.4" fill="url(#irg)"/>
<circle cx="653.7" cy="631.3" r="5.4" fill="url(#irg)"/>
<circle cx="653.7" cy="658.7" r="5.4" fill="url(#irg)"/>
<circle cx="653.7" cy="686.1" r="5.4" fill="url(#irg)"/>
<circle cx="653.7" cy="713.5" r="5.4" fill="url(#irg)"/>
<circle cx="653.7" cy="740.9" r="5.4" fill="url(#irg)"/>
<circle cx="653.7" cy="768.3" r="5.4" fill="url(#irg)"/>
<circle cx="633.8" cy="592.4" r="3.1" fill="url(#og)"/>
<circle cx="662.7" cy="592.4" r="3.1" fill="url(#og)"/>
<circle cx="673.8" cy="613.5" r="3.1" fill="url(#og)"/>
<circle cx="644.7" cy="619.8" r="3.1" fill="url(#og)"/>
<circle cx="644.7" cy="619.8" r="3.1" fill="url(#og)"/>
<circle cx="673.8" cy="619.8" r="3.1" fill="url(#og)"/>
<circle cx="662.7" cy="647.2" r="3.1" fill="url(#og)"/>
<circle cx="633.8" cy="640.6" r="3.1" fill="url(#og)"/>
<circle cx="633.8" cy="647.2" r="3.1" fill="url(#og)"/>
<circle cx="662.7" cy="647.2" r="3.1" fill="url(#og)"/>
<circle cx="673.8" cy="668.3" r="3.1" fill="url(#og)"/>
<circle cx="644.7" cy="674.6" r="3.1" fill="url(#og)"/>
<circle cx="644.7" cy="674.6" r="3.1" fill="url(#og)"/>
<circle cx="673.8" cy="674.6" r="3.1" fill="url(#og)"/>
<circle cx="662.7" cy="702.0" r="3.1" fill="url(#og)"/>
<circle cx="633.8" cy="695.4" r="3.1" fill="url(#og)"/>
<circle cx="633.8" cy="702.0" r="3.1" fill="url(#og)"/>
<circle cx="662.7" cy="702.0" r="3.1" fill="url(#og)"/>
<circle cx="673.8" cy="723.1" r="3.1" fill="url(#og)"/>
<circle cx="644.7" cy="729.4" r="3.1" fill="url(#og)"/>
<circle cx="644.7" cy="729.4" r="3.1" fill="url(#og)"/>
<circle cx="673.8" cy="729.4" r="3.1" fill="url(#og)"/>
<circle cx="662.7" cy="756.8" r="3.1" fill="url(#og)"/>
<circle cx="633.8" cy="750.2" r="3.1" fill="url(#og)"/>
<circle cx="633.8" cy="756.8" r="3.1" fill="url(#og)"/>
<circle cx="662.7" cy="756.8" r="3.1" fill="url(#og)"/>
<circle cx="673.8" cy="777.9" r="3.1" fill="url(#og)"/>
<circle cx="644.7" cy="784.2" r="3.1" fill="url(#og)"/>
<circle cx="662.7" cy="585.8" r="3.1" fill="url(#og)"/>
<line x1="384.7" y1="805.7" x2="384.7" y2="788.7" stroke="#000" stroke-width="1.6"/><polygon points="384.7,783.7 387.9,789.7 384.7,788.9 381.5,789.7" fill="#000" />
<line x1="384.7" y1="805.7" x2="396.5" y2="805.7" stroke="#000" stroke-width="1.6"/><polygon points="401.5,805.7 395.5,808.9 396.3,805.7 395.5,802.5" fill="#000" />
<line x1="384.7" y1="805.7" x2="369.3" y2="805.7" stroke="#000" stroke-width="1.6"/><polygon points="364.3,805.7 370.3,802.5 369.5,805.7 370.3,808.9" fill="#000" />
<text x="385.2" y="779.4" text-anchor="middle" style="font-family:'Liberation Sans',sans-serif;font-weight:bold;font-size:12px">b</text>
<text x="411.6" y="810" text-anchor="middle" style="font-family:'Liberation Sans',sans-serif;font-weight:bold;font-size:12px">c</text>
<text x="357.5" y="810" text-anchor="middle" style="font-family:'Liberation Sans',sans-serif;font-weight:bold;font-size:12px">a</text>
<line x1="612.0" y1="789.3" x2="624.8" y2="777.8" stroke="#000" stroke-width="1.6"/><polygon points="628.5,774.5 626.2,780.9 624.6,778.0 621.9,776.1" fill="#000" />
<line x1="612.0" y1="789.3" x2="624.2" y2="802.8" stroke="#000" stroke-width="1.6"/><polygon points="627.5,806.5 621.1,804.2 624.0,802.6 625.9,799.9" fill="#000" />
<text x="634" y="774" text-anchor="middle" style="font-family:'Liberation Sans',sans-serif;font-weight:bold;font-size:12px">c</text>
<text x="636" y="811" text-anchor="middle" style="font-family:'Liberation Sans',sans-serif;font-weight:bold;font-size:12px">a</text>
</svg></div>
<script>
function smooth(e0,e1,x){var t=(x-e0)/(e1-e0);t=t<0?0:t>1?1:t;return t*t*(3-2*t);}
function fieldOf(comps,k,R){
  var s=0, P=0, M=1;
  for(var i=0;i<comps.length;i++){
    var c=comps[i];
    if(c[0]==='g'){ // gaussian: k0,R0,sk,sR,a,rot(opt: dR/dk shear)
      var sh=c[6]||0; var dk=(k-c[1]), dR=(R-c[2]-sh*dk);
      s+=c[5]*Math.exp(-0.5*(dk*dk/(c[3]*c[3])+dR*dR/(c[4]*c[4])));
    } else if(c[0]==='v'){ // vertical ridge: k0,sk,Rlo,Rhi,edge,a, slope dk/dR
      var sl=c[7]||0; var kk=c[1]+sl*(R-c[3]);
      var dk2=(k-kk)/c[2];
      s+=c[6]*Math.exp(-0.5*dk2*dk2)*smooth(c[3]-c[5],c[3]+c[5],R)*(1-smooth(c[4]-c[5],c[4]+c[5],R));
    } else if(c[0]==='h'){ // horizontal band: R0,sR,klo,khi,edge,a, slope dR/dk
      var sl2=c[7]||0; var RR=c[1]+sl2*(k-c[3]);
      var dR2=(R-RR)/c[2];
      s+=c[6]*Math.exp(-0.5*dR2*dR2)*smooth(c[3]-c[5],c[3]+c[5],k)*(1-smooth(c[4]-c[5],c[4]+c[5],k));
    } else if(c[0]==='p'){ // plateau: kL0,kLs,ewk,RB0,RBs,ewR,amp  (kL=kL0+kLs*R, RB=RB0+RBs*k)
      var kL=c[1]+c[2]*R, RB=c[4]+c[5]*k;
      P+=c[7]*smooth(kL-c[3],kL+c[3],k)*smooth(RB-c[6],RB+c[6],R);
    } else if(c[0]==='o'){ // hole: k0,sk0,skgrow,Rstart,eR,depth,kslope
      var kc=c[1]+(c[7]||0)*(R-c[4]); var sk=c[2]+c[3]*Math.max(0,R-c[4]);
      var dd=Math.abs((k-kc)/sk); var pw=c[8]||2;
      M*=1-c[6]*Math.exp(-0.5*Math.pow(dd,pw))*smooth(c[4]-c[5],c[4]+c[5],R);
    } else if(c[0]==='a'){ // asym gaussian: k0,R0,skL,skR,sRd,sRu,amp,shear(dR/dk)
      var dka=k-c[1]; var dRa=R-c[2]-(c[8]||0)*dka;
      var ska=dka<0?c[3]:c[4]; var sRa=dRa<0?c[5]:c[6];
      s+=c[7]*Math.exp(-0.5*(dka*dka/(ska*ska)+dRa*dRa/(sRa*sRa)));
    } else if(c[0]==='q'){ // mult gaussian hole: k0,R0,sk,sR,depth
      var qk=(k-c[1])/c[3], qR=(R-c[2])/c[4];
      M*=1-c[5]*Math.exp(-0.5*(qk*qk+qR*qR));
    } else if(c[0]==='b'){ // box soft: klo,khi,Rlo,Rhi,ek,eR,a
      s+=c[7]*smooth(c[1]-c[5],c[1]+c[5],k)*(1-smooth(c[2]-c[5],c[2]+c[5],k))*smooth(c[3]-c[6],c[3]+c[6],R)*(1-smooth(c[4]-c[6],c[4]+c[6],R));
    }
  }
  return (s+P)*M;
}
var CM=[[0,0,0,0],[0.03,12,0,0],[0.075,55,0,0],[0.15,140,0,0],[0.225,215,0,0],[0.3,248,0,0],[0.375,255,35,0],[0.45,255,130,0],[0.525,255,240,0],[0.6,255,255,110],[0.675,255,255,245],[0.72,238,244,252],[0.78,205,224,250],[0.85,155,192,245],[0.92,110,160,240],[1.0,70,120,230]];
function cmap(v){
  if(v<=0)return CM[0].slice(1);
  for(var i=1;i<CM.length;i++){ if(v<=CM[i][0]){var a=CM[i-1],b=CM[i];var t=(v-a[0])/(b[0]-a[0]);return [a[1]+(b[1]-a[1])*t,a[2]+(b[2]-a[2])*t,a[3]+(b[3]-a[3])*t];}}
  return CM[CM.length-1].slice(1);
}
function lineCol(L){
  if(L<0.42) return [240,165,40];
  if(L<0.5) return [235,225,30];
  if(L<0.55) return [160,230,40];
  if(L<0.65) return [90,225,80];
  if(L<0.7) return [60,215,240];
  if(L<0.8) return [90,170,255];
  if(L<0.86) return [70,110,245];
  return [50,60,225];
}
function paint(id,kmin,kmax,Rmin,Rmax,comps,levels){
  var cv=document.getElementById(id); var W=cv.width,H=cv.height;
  var ctx=cv.getContext('2d'); var img=ctx.createImageData(W,H); var d=img.data;
  var S=2; // supersample
  var WW=W*S+2, HH=H*S+2; var F=new Float32Array(WW*HH);
  for(var y=0;y<HH;y++){for(var x=0;x<WW;x++){
    var px=(x-1+0.5)/S, py=(y-1+0.5)/S;
    var k=kmin+px/W*(kmax-kmin), R=Rmax-py/H*(Rmax-Rmin);
    F[y*WW+x]=fieldOf(comps,k,R);
  }}
  for(var y=0;y<H;y++){for(var x=0;x<W;x++){
    var r=0,g=0,b=0;
    for(var sy=0;sy<S;sy++)for(var sx=0;sx<S;sx++){
      var X=x*S+sx+1, Y=y*S+sy+1; var v=F[Y*WW+X];
      var c=cmap(v);
      var gx=(F[Y*WW+X+1]-F[Y*WW+X-1])*0.5*S, gy=(F[(Y+1)*WW+X]-F[(Y-1)*WW+X])*0.5*S;
      var gm=Math.sqrt(gx*gx+gy*gy)+1e-6;
      for(var li=0;li<levels.length;li++){
        var L=levels[li]; var dist=Math.abs(v-L)/gm;
        if(dist<1.0){var al=Math.max(0,Math.min(1,1.15-dist*1.5))*0.95; var lc=lineCol(L);
          c=[c[0]+(lc[0]-c[0])*al,c[1]+(lc[1]-c[1])*al,c[2]+(lc[2]-c[2])*al];}
      }
      r+=c[0];g+=c[1];b+=c[2];
    }
    var i=(y*W+x)*4; d[i]=r/(S*S); d[i+1]=g/(S*S); d[i+2]=b/(S*S); d[i+3]=255;
  }}
  ctx.putImageData(img,0,0);
}

paint("cvc",0,12,0.5,3.5,[["p", 0.8999999999999999, 0.5500000000000002, 1.5999999999999999, 0.696, 0.0387, 0.385, 0.3210907950133372], ["o", 4.86, 0.27, 0.25, 2.45, 0.3, 0.85, 0, 2], ["o", 7.92, 0.24, 0.28, 2.3, 0.35, 0.85, 0, 2], ["o", 10.4, 0.32, 0.35, 2.2, 0.35, 0.9, 0, 2], ["o", 6.2, 0.25, 0.05, 3.3, 0.12, 0.8, 0, 2], ["a", 4.400000000000001, 1.3713160660384476, 1.2175826164085573, 1.9999999999999998, 0.18978959470864046, 0.20000000000000004, 0.4230209759608676, 0], ["a", 4.74111162248806, 1.7499999999999998, 1.1026117749000095, 1.9615167503330655, 0.2800000000000001, 0.542783910045811, 0.4589103048971304, -0.034158169688573034], ["v", 3.5000000000000004, 0.5499999999999999, 1.6, 3.9, 0.45, 0.25000000000000006, 0], ["a", 6.6, 2.25, 1.0, 1.3, 0.3, 0.35, 0.04093234772285846, 0]],[0.075, 0.15, 0.225, 0.3, 0.375, 0.45, 0.525, 0.6, 0.675, 0.75, 0.825, 0.9]);
paint("cvd",0,12,0.5,3.5,[["p", 0.5869847336078452, 0.62280507407475, 1.170271842083663, 0.6563032590030482, 0.03383681850566722, 0.39999999999999997, 0.2643142254183713], ["o", 4.95, 0.22, 0.25, 2.8, 0.25, 0.85, 0, 2], ["o", 7.7, 0.22, 0.2, 2.3, 0.25, 0.85, 0, 2], ["o", 9.7, 0.25, 0.25, 2.4, 0.3, 0.85, 0, 2], ["o", 11.45, 0.3, 0.2, 2.35, 0.3, 0.85, 0, 2], ["o", 6.1, 0.2, 0.05, 3.3, 0.12, 0.4630292969792846, 0, 2], ["a", 4.608960797673192, 1.4678705912689212, 1.3560970398171637, 1.7032659882666894, 0.2576355761267639, 0.4177389519918548, 0.6652269476231902, 0.023541344057167606], ["a", 4.500000000000001, 2.0721147264975537, 1.2663710172820197, 2.5317697728348163, 0.23816880976920957, 0.8482346474360256, 0.2567737481747728, -0.14201117902622476], ["v", 3.5000000000000004, 0.5985251297165488, 1.6, 3.9, 0.45, 0.16758821890952444, 0], ["v", 5.6, 0.25, 2.2, 3.8, 0.3, 0.1, 0], ["v", 6.9, 0.3, 2.2, 3.8, 0.3, 0.1, 0], ["q", 11.5, 1.7, 2.0, 0.6, 0.22]],[0.075, 0.15, 0.225, 0.3, 0.375, 0.45, 0.525, 0.6, 0.675, 0.75, 0.825, 0.9]);
paint("cve",0,12,1.0,3.5,[["p", 2.68, 0.0, 1.38, 1.12, 0.0, 0.18, 0.115], ["b", 6.4, 16, 1.68, 5, 1.94, 0.24, 0.54], ["a", 5.27, 1.95, 0.79, 1.16, 0.22, 0.44, 0.32, 0], ["g", 11.35, 2.75, 0.48902794768920366, 0.5456340205733716, 0.2952821407275635, 0], ["g", 8.5, 2.75, 0.7900716480748178, 0.31523564228802475, 0.14721839344732016, 0], ["o", 6.85, 0.22, 0.2, 2.8789410373495783, 0.25, 0.3886036482197467, 0, 2], ["o", 10.15, 0.22, 0.15, 3.0096239927204884, 0.2, 0.553857370230058, 0, 2], ["o", 9.1, 0.18, 0.1, 3.4, 0.1, 0.43645670574950846, 0, 2], ["o", 5.4, 0.2, 0.1, 2.8512623578471854, 0.2, 0.7035953159387581, 0, 2], ["q", 5.95, 1.18, 0.45, 0.13, 0.7532915284824853], ["q", 8.4, 1.35, 0.45, 0.13, 0.6483497792755866], ["q", 10.1, 1.45, 0.4, 0.13, 0.22611153944806955]],[0.075, 0.15, 0.225, 0.3, 0.375, 0.45, 0.525, 0.6, 0.675, 0.75, 0.825, 0.9]);

</script>
</body></html>
